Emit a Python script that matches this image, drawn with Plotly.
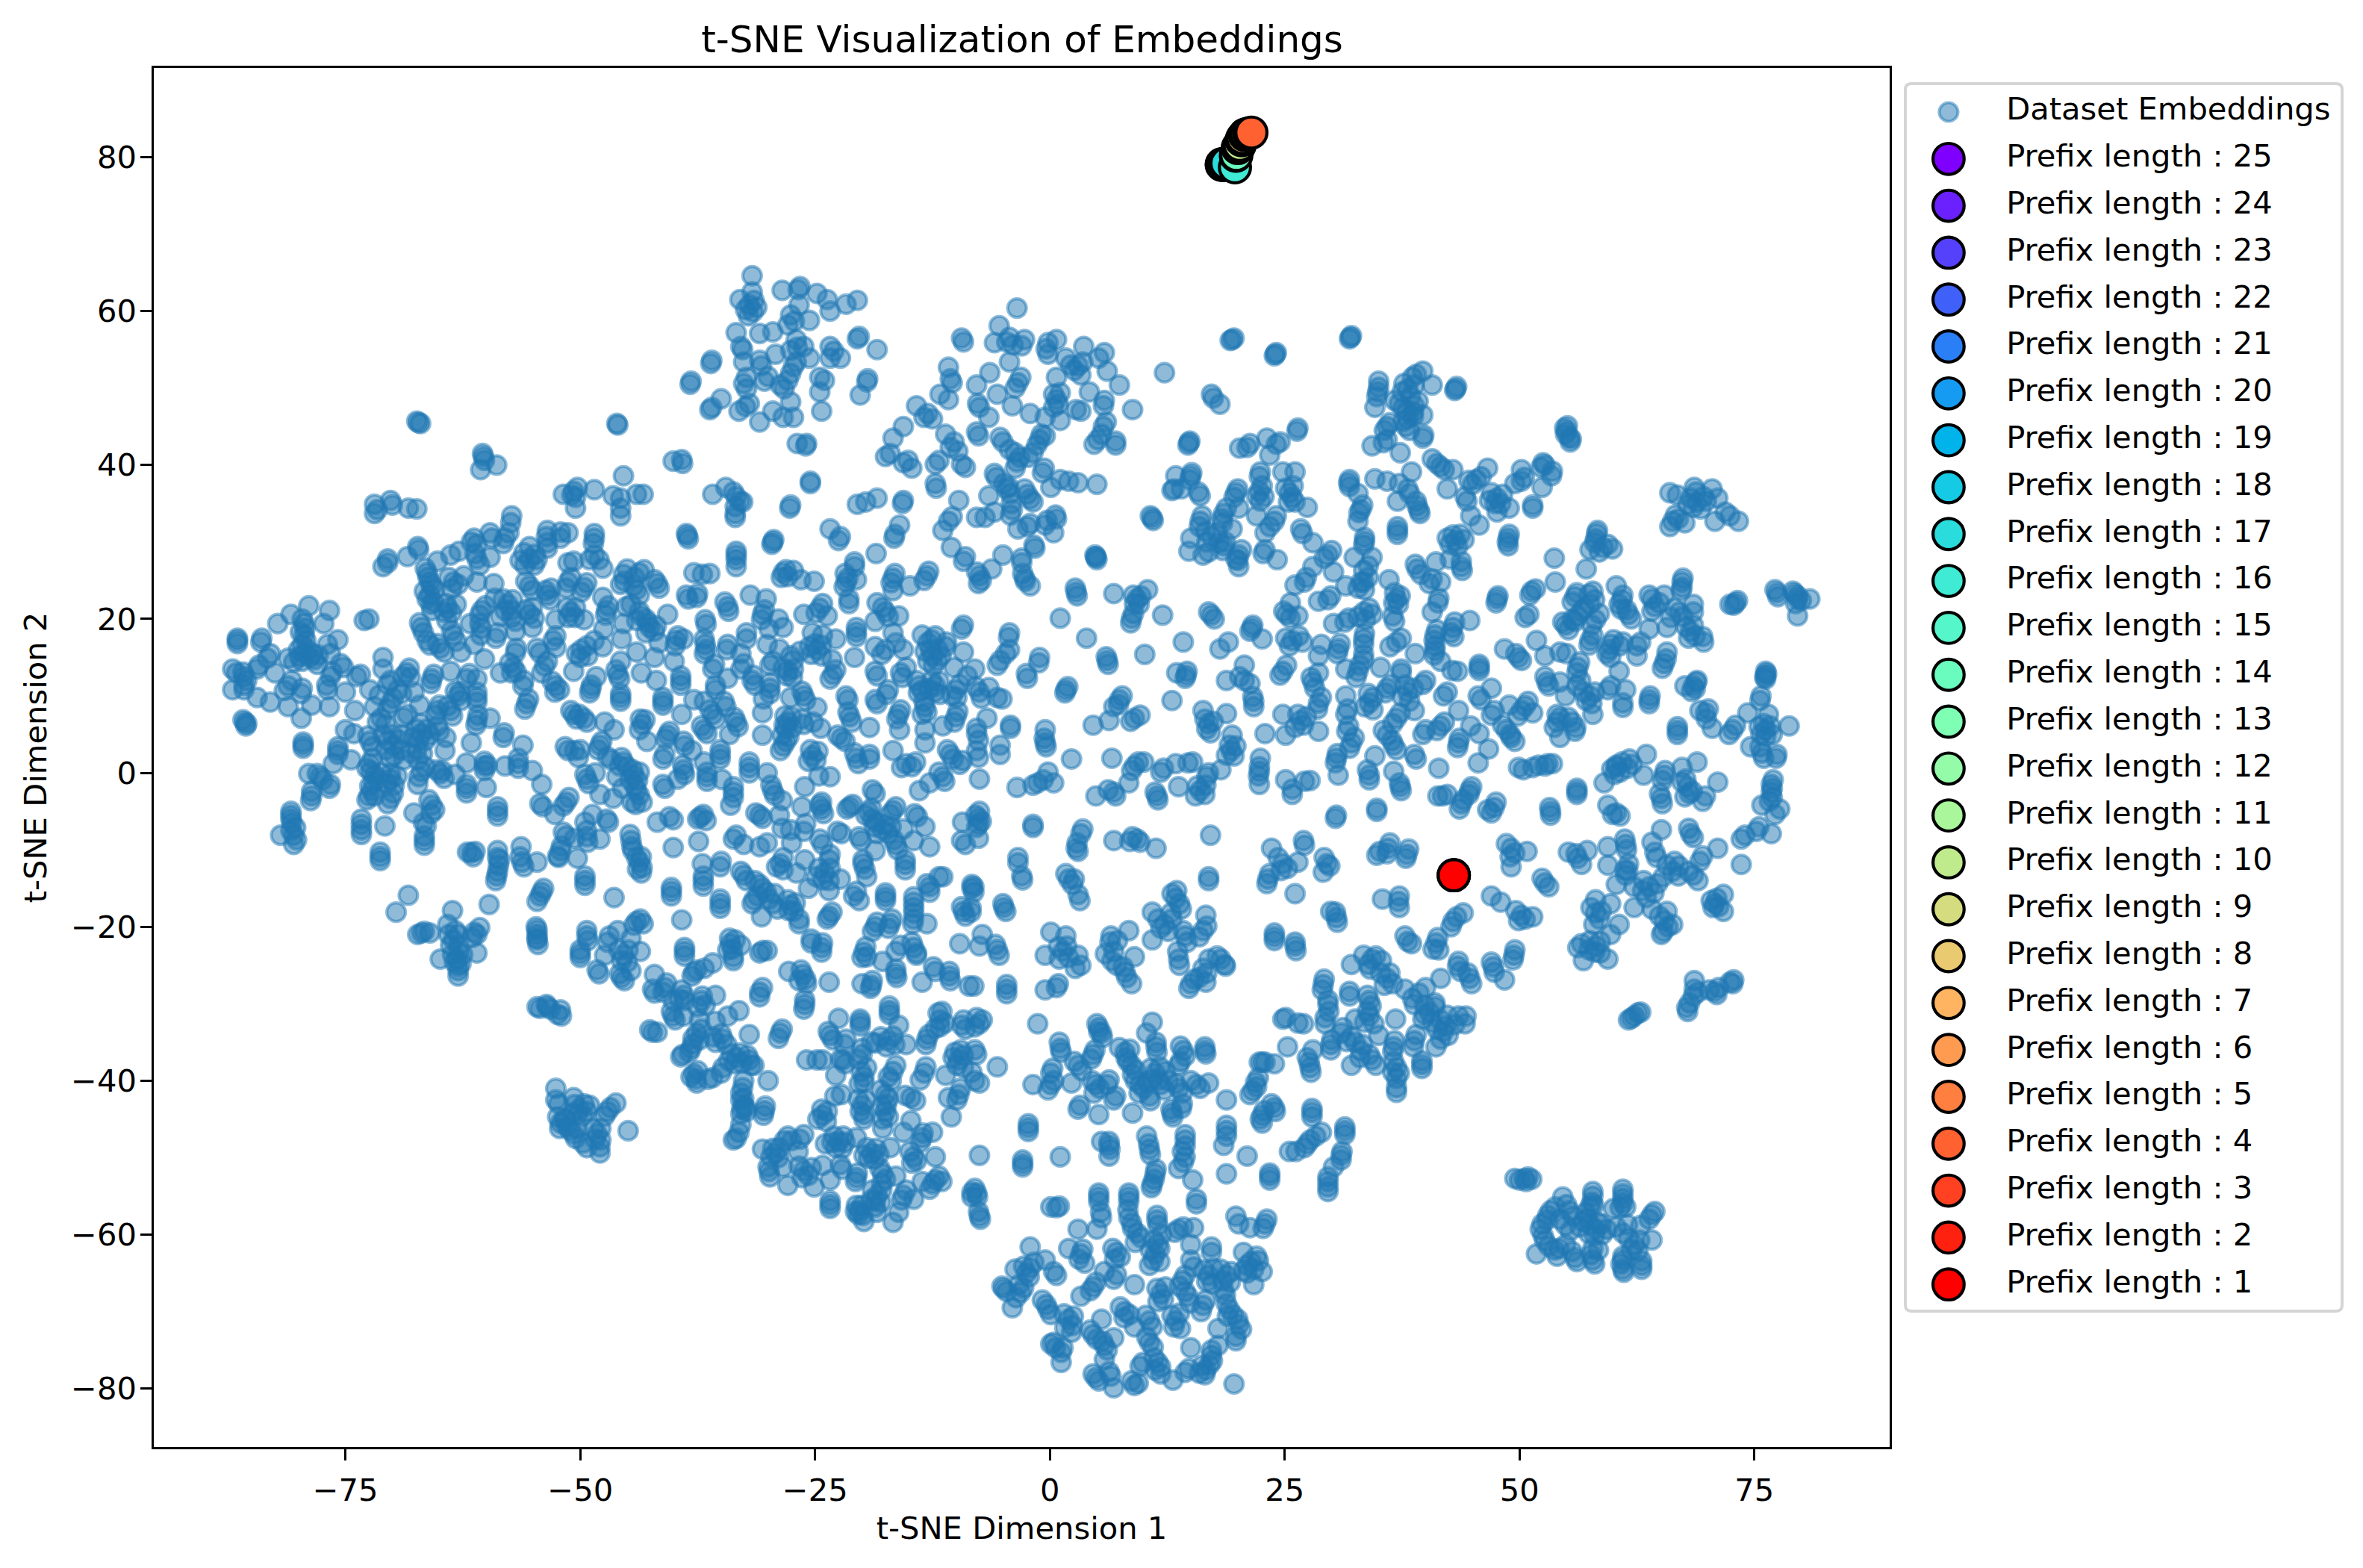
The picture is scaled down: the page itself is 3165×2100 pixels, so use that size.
import numpy as np
import plotly.graph_objects as go

# t-SNE points, grouped by region (x, y)
top_cluster = [(-31.7,64.6),(-31.7,62.5),(-28.5,62.7),(-26.6,63.2),(-26.8,62.8),(-33,61.5),(-32,60.8),(-31.5,61.4),(-32.4,60.2),(-31.6,59.9),(-31.2,60.5),(-32.1,59.4),
(-24.8,62.3),(-23.7,61.5),(-21.7,60.9),(-20.5,61.4),(-23.4,60),(-27.6,59.5),(-27.2,58.7),(-26.7,60.8),(-25.6,58.8),(-27.9,58.2),(-33.4,57.2),(-30.9,57.1),(-29.5,57.3),
(-32.9,55.4),(-32.7,55),(-27,56.3),(-27.6,54.9),(-26.9,55.3),(-26.2,55.4),(-23.4,55.4),(-23,54.8),(-20.3,56.7),(-20.5,56.4),(-18.4,55),(-32.6,53.4),(-30.9,53.6),(-30.7,52.9),(-29.2,54.4),(-27,53.4),(-27.3,52.8),(-25.6,53.9),(-23.4,53.9),(-22.3,53.9),
(-36,53.6),(-36.1,53.2),(-38.3,50.5),(-38.2,50.9),(-32.3,51.4),(-32.6,50.6),(-30.4,50.9),(-30,51.5),(-28.7,50.4),(-28.3,49.9),(-27.6,51.9),(-27.9,51),(-24.5,51.4),(-24,51),(-19.5,50.8),(-19.4,51.2),(-20.2,49.1),(-24.5,49.5),(-32.3,49.9),(-35,48.6),(-36.2,47.2),(-36,47.5),(-32,48),(-32.4,47.6),(-33.1,47),(-30.9,45.6),(-29.5,47),(-27.6,48.2),(-28.4,46.2),(-27.3,46.2),(-24.3,47),(-26.9,42.8),(-25.9,42.8),(-26,42.5),
(-9.4,56.5),(-9.2,56),(-10.8,52.7),(-10.6,51.2),(-10.4,50.7),(-11.7,49.2),(-14.2,47.7),(-13.4,46.2),(-13,46.7),(-12.5,46),(-15.6,45),(-16.7,43.5),(-10.8,48.5),(-11.1,44),(-10.6,42.3),(-10.2,43),(-9.8,41.8),(-17.5,41.1),(-17,41.5),(-15.6,40.3),(-15.1,40.6),(-14.7,39.6),(-12.2,40.1),(-11.8,40.6),(-9.4,40.1),(-9,39.7),(-12.2,37.6),(-12.1,37),(-9.7,35.4),(-10.8,32.7),(-10.4,33.3),(-11.4,31.5),(-10.5,29.3),(-9.2,27.5),(-9,28.1)]

mid_top = [(-3.5,60.4),(-5.4,58.1),(-4.3,56.6),(-4.6,56),(-3.9,55.6),(-2.7,56.3),(-3,55.5),(-5.9,55.9),(-0.2,55.9),(-0.4,55.1),(0.7,56.3),(3.6,55.4),(5.8,54.6),(5.2,53.9),(3,52.9),(3.5,53.4),(2.6,52.3),(2.2,53),(3.3,51.7),(1.7,53.9),(-0.2,54.4),(-4.3,53.4),(-6.4,52),(-7.8,50.4),(-3.4,50.7),(-3.1,51.4),(-3.7,50),(0.7,51.4),(6.1,52.2),(7.4,50.4),(4.2,49.5),(0.7,48.5),(0.4,49.2),(1.1,49.4),(0.9,47.9),(0.4,47.5),(5.8,48.4),(5.7,47.7),(8.8,47.2),(3.3,47),(2.8,47.2),(1.1,45.8),(-2.1,46.7),(-0.5,46.2),(-4,47.7),(-5.6,49.2),(-7.5,47.5),(-7.7,48),(-6.5,46.2),(-7.8,44.3),(-7.6,43.8),(6,45.6),(5.7,45),(5.1,43.3),(5.5,44),(7,42.6),(7,43.1),(4.7,42.7),(-1.1,43.3),(-0.9,44),(-1.4,42.6),(-0.5,43.8),(-5,43),(-5.3,43.6),(-3.7,41.6),(-4.3,42),(-3.2,41),(-3.5,40.4),(-1.8,41.6),(-2.3,41),
(-5.9,38.9),(-5.7,38.4),(-0.8,39),(-0.6,39.6),(-3.7,39.6),(1.1,38.1),(2,37.9),(3,37.7),(5,37.5),(0.1,37.1),(-4.6,36.9),(-4.9,37.6),(-4.2,36.3),(-4.4,37.2),(-2.4,36.2),(-2.7,36.9),(-2.1,35.6),(-6.5,36),(-4,34.2),(-4.2,33.5),(-4.1,35),(-5.9,33.9),(-1.8,35.2),(-7.8,33.2),(-6.9,33.2),(0.7,33),(0.6,33.5),(-0.5,32.2),(-0.3,32.8),(-2.4,32),(-2.1,32.4),(0.4,31.2),(-3.4,31.7),(10.9,33.1),(10.7,33.4),(11,32.8),
(-1.6,29.2),(-1.7,29.6),(-3,27.9),(-3,27.3),(-5,28.3),(-6.2,26.5),(-7.5,25.6),(-7.8,26.1),(-7.3,25),(-7.6,24.6),(-2.7,25.3),(-2.9,25.9),(-2.6,24.9),(-2.1,24.3),(4.9,28),(4.8,28.3),(5,27.7),
(12.2,52),(17.2,49.2),(17.4,48.7),(18.1,47.9),(14.8,42.9),(14.9,43.1),(14.7,42.6),(20.2,42.2),(21.3,42.8),(21,42.3),(23.1,43.5),(24.5,43),(24.1,42.7),(23.4,41.3),(26.4,44.8),(26.3,44.4),(19.4,56.3),(19.6,56.5),(19.2,56.2),(24,54.4),(24.1,54.6),(23.9,54.2),(32,56.6),(32.1,56.8),(31.9,56.4),
(13.4,38.6),(15,38.6),(15.1,39),(14.9,38.1),(13.2,36.9),(13,36.7),(14,36.9),(15.8,36.5),(16,36),(19.8,36.4),(19.6,35.8),(20,36.9),(22.4,39.1),(22.3,38.5),(22.3,36.6),(22.6,37.3),(22,36),(22.8,35.9),(22.4,35.3),(24.8,39.1),(26.1,39.1),(25.5,36.4),(25.1,37),(25.9,37.3),(25.8,35.8),(25.4,35.2),(27.4,34.5),(26.1,35.2),(20.1,34.4),(18.5,33.7),(18.3,33),(18.8,34.4),(18.4,32.5),(16,32.7),(16.2,33.4),(15.9,32),(16.6,31.4),(23.9,32.7),(23.4,32),(24.1,33.4),(22,33.4),(19.4,31.7),(22.9,31.2),(17.2,30.7),(17.8,31.2),(16.7,30),(18,29.9),(18.5,29.5),(18.7,30),(18.4,28.9),(16.3,28.3),(16.9,28.7),(14.8,28.8),(20.1,28.3),(20.4,29),(20,27.6),(19.8,27.8),(20.1,26.8),(22.9,29),(22.7,28.5),(24.2,27.7),(26.7,31.7),(26.9,31.1),(28,29.9),(29.6,28.3),(30,28.9),(29.2,27.9),(28,26.8),(30.2,26.1)]

upper_right = [(35,50.9),(35,50.1),(34.9,49.5),(34.8,48.9),(34.6,47.5),(39.7,52.2),(39,51.8),(38.6,51.4),(40.7,50.4),(43.2,49.9),(43.3,50.2),(43.1,49.7),(38.1,49.9),(37.5,49.5),(38.8,50.4),(37.7,50.6),(38.4,48.9),(37.2,48),(36.7,48.4),(37.6,47.4),(38.8,47.7),(39.2,48.3),(38,47),(38.7,46.9),(38.1,46),(37.6,45.7),(38.7,46.3),(37.9,45),(38.3,44.5),(39.7,46.5),(35.9,45),(35.6,44.5),(36.2,45.5),(39.7,43.5),(39.8,43.9),(35.9,43.3),(35.5,42.9),(34.3,42.5),(37.3,41.6),
(54.8,44.8),(55,44.4),(54.9,44),(55.1,45.1),(55.4,43),(55.3,43.6),(55.5,43.4),
(40.7,40.8),(41.6,39.8),(41.2,40.2),(42,39.4),(42.9,39.4),(45.4,38.1),(45,37.5),(45.9,38.5),(44.6,38),(46.6,39.6),(50.2,39.4),(52.5,40.3),(52.7,40),(52.3,39.7),(53.5,39.2),(53.4,38.6),(50.5,38.4),(50.2,37.9),(52.4,37.1),(49.5,37.6),(42.3,36.9),(44.2,35.9),(44.4,35.3),(47.6,35.7),(47,36.4),(48.2,36.2),(47.4,35),(48,35),(46.8,35.4),(48.9,34.4),(51.4,34.4),(51.4,34.8),(47.6,33.9),
(34.6,38.2),(35.9,37.9),(37.2,37.6),(38.5,39.1),(38.1,36.9),(38.3,36.3),(37,35.3),(39.1,34.7),(39.3,34.1),(39,35.3),(39.4,33.7),(31.8,37.7),(31.9,37.2),(31.9,38.1),(32.8,36.3),(33.1,34.2),(33.3,34.8),(32.9,33.8),(32.8,32.7),(37,31.5),(37,31),(37,32),
(44.8,33.4),(45.7,32.2),(43.2,30.2),(42.9,30.9),(43.7,31),(42.6,29.7),(43.4,29.4),(44.1,30.3),(42.3,30.5),(42.6,27.8),(43.8,26.8),(43.8,27.5),(43.9,26.3),(41.1,27.4),(48.8,30.5),(48.9,31),(48.7,30),(48.8,29.5),
(53.7,27.9),(58.2,31.1),(58.1,30.4),(58.3,31.5),(58.9,29.3),(58.5,28.7),(59.4,29.7),(58,29.9),(57.5,29),(59.9,29.1),(57.1,26.5),(53.8,24.8),
(66,36.4),(66.8,36.1),(68.6,37.1),(68.8,36.5),(70.5,36.9),(68.9,35.2),(68.2,35.7),(69.6,35.9),(68.5,34.5),(69.3,34.3),(67.9,34.9),(69.9,35.3),(71.1,35.7),(72.4,33.4),(71.9,33.9),(73.3,32.7),(66.3,32.7),(66.6,33.5),(66,32),(66.9,33),(67.6,32.5),(70.8,32.7),
(15,30.5),(33.4,24.8),(31.5,24.3),(27.1,24.8),(27.3,25.4),(26.1,24.4),(33.1,24.8),(33.9,25.4),(32.8,24),(33.5,23.8),(36.1,25.1),(39.1,26.5),(39.5,25.8),(38.9,27.1),(41.6,24.8),(40.4,24.6),(40.7,25.2),(33.4,26.3),(33.9,26.9),(32.4,28),(34.3,28),(33.5,30.1),(33.4,29.6),(33.5,30.6),
(29.6,22.5),(29.9,23),(28.6,22.3),(36.9,22.6),(36.7,23.4),(37.1,21.9),(36.6,22.1),(37.3,23),(41.3,22.1),(41.4,22.7),(40.7,20.9),(44.7,19.8),(42.9,18.9),(43.1,19.6),(42.7,18.2),(33.4,20.9),(34,21.4),(32.8,20.3),(33.6,19.9),(34.3,20.6),(31.8,20.1),(31.4,19.6),(30.2,19.4),(36.5,20.4),(36.7,19.7),(25.2,20.6),(25.6,20.1),(24.9,21),(25.6,22.1),(26.4,20.4),(21.5,18.8),(21.3,18.4),(21.6,19.2),(17.2,20.5),(17.5,20),(16.9,20.9),(12,20.5),
(2.8,23.5),(2.7,24),(2.9,23),(6.8,23.3),(9.3,22.6),(9,22),(9.7,23),(8.9,23.1),(9.5,21.9),(10.4,23.8),(8.7,20.1),(8.6,19.5),(8.9,20.7),(1.1,20.1),(3.9,17.5),(6.1,14.6),(6,15.1),(6.2,14.1),(10.1,15.4),(14.2,17),(19,17),(18.1,16.1),(13.5,13),(14.5,12.7),(14.6,13.2),(14.4,12.3),(13,9.4),(4.9,28.1),
(-4.3,18.2),(-4.4,17.6),(-4.3,16),(-4.7,15.5),(-5.6,14),(-5.3,14.6),(-1.1,15),(-1.2,14.3),(-2.4,12.3),(-2.5,12.9),(1.7,10.8),(1.9,11.2),(1.6,10.4),(7.4,9.5),(7.3,8.9),(7.7,10),(6.8,8.6),(9,7.1),(8.6,6.7),(9.6,7.5),(4.6,6.2),(6.3,6.8),(-0.5,5.6),(-0.5,3.9),(-0.6,4.5),(-0.4,3.4),(2.3,1.8),(6.6,1.9),(9,0.9),(8.7,0.3),(9.4,1.4),(10,1.4),(-4.2,6.2),(-4.2,5.8),(-5.3,2.4),(11.8,0.1),(12.1,0.6),
(16.9,6.4),(16.5,7),(17.4,6.7),(16.7,5.7),(17.1,5.2),(16.3,8.1),(18.8,7.7),(22.9,5.1),(19.4,4.9),(19.3,2.9),(18.8,2.3),(19.8,3.5),(19.1,3.6),(19.6,2.2),(22.4,1.9),(22.3,0.2),(22.3,0.8),(22.2,-0.4),(22.3,-1.5),(13.4,1.2),(14.7,1.3),(15.2,1.4),(16.9,0),(16.7,-0.5),(18.2,0.4),(16,-2.3),(15.7,-1.7),(16.5,-2.8),(15.5,-3),(16.6,-1.6),(13.7,-1.8),(11.2,-2.5),(11.4,-3),(11.5,-3.5),(8.4,-1.3),(6.8,-2.5),(7,-3),(6.2,-2.2),(4.9,-3),(0.4,-1.3),(-1.3,-1.3),(-1.8,-1.6),(-0.7,-0.9),(-3.5,-1.9),(-0.2,0.1),(-7.5,-0.8)]

center_right = [(24.8,7.6),(26.7,6.8),(26.1,5.9),(27.3,7.3),(26.4,7.6),(27,6.2),(28.6,9.1),(28.5,8.3),(28.9,9.8),(25.1,4.9),(28.6,5.4),(28,11.8),(28.2,11),(27.8,12.4),(28.6,13),(31.5,13.5),(32.8,13.2),(32.6,12.4),(33,14),(35.2,13.7),(37.4,13.5),(37.4,13),(31.5,10),(31.5,7.6),(31.7,8.3),(31.8,6.1),(31.6,5.4),(34,9.1),(33.5,8.6),(34.4,9.8),(33.9,10.3),(34.4,8.2),(35.9,11),(35.7,10.4),(36.3,11.5),(38.1,10.5),(37.5,9.9),(38.7,11),(38.3,9.3),(37.8,11.4),(40,12),(39.7,11.5),(42.3,10.5),(41.9,10),(43.5,8.1),(45.9,9.5),(45.6,10),(47,11),(47.3,8.1),(47,7.5),(48.9,8.8),(50.2,8.1),(49.8,7.4),(50.6,8.7),(51.4,7.8),(50.9,9.3),(48.6,5.6),(48.2,6.2),(49,5),(49.5,4.1),(49.1,4.6),(46.7,3.1),(45.7,5.1),(44.8,6.1),(43.5,3.9),(43.6,4.5),(43.4,3.3),
(36.9,7.1),(36.5,6.4),(37.3,7.8),(38.8,8.1),(40,5.6),(39.7,5),(41.6,6.1),(41.2,5.5),(42,6.6),(35.9,4.9),(35.5,5.5),(36.6,3.6),(36.4,4.2),(36.9,3),(38.8,2.4),(39,1.8),(32.1,3.9),(32.4,4.6),(31.9,3.2),(34.6,2.2),(30.5,1.9),(30.4,1.3),(30.6,2.5),(30.7,-0.3),(34,-0.3),(33.8,0.4),(34,-0.9),(36.6,0.2),(37.3,-1.8),(37.2,-1.3),(37.4,-2.3),(41.4,0.6),(45.6,1.3),(25.1,-0.9),(27.1,-1.1),(27.7,-1),(25.8,-2.8),(25.8,-2.1),
(33.4,17.4),(33.5,18.1),(33.4,16.7),(33.4,15.4),(33.4,14.7),(25.8,17.2),(25.1,17.5),(26.5,17.8),(26.9,17),(25.5,16.5),(22.6,17.4),(28.9,16.7),(30.7,16.1),(30.6,15.5),(30.9,16.8),(28.6,15.2),(24.8,13.2),(25.2,14),(24.5,12.7),(20.7,14),(18.8,12),(20.7,12),(20.2,12.5),(21.3,11.6),(21.7,9.3),(21.7,8.6),(21.6,9.9),(36.9,17),(36.2,16.4),(37.4,17.5),(41,17.9),(41.2,18.6),(40.9,17.2),(41,15.9),(40.9,15.3),(41,16.5),(41.6,14.5),(43,17.7),(38.9,15.5),(43.4,13.2),(42.8,13.3),(45.7,13.7),(45.7,14.1),(45.7,13.3),
(48.4,16.1),(49.9,15),(49.6,15.5),(50.2,14.6),(51.8,17.2),(52.7,15.2),(54.3,15.7),(55,15.5),(52.9,11.8),(52.7,12.5),(53.1,11.3),(54.3,11.8),(56.2,13.7),(56.4,14.4),(56.1,13),(56.5,12),(56.1,11.3),(57.5,10),(57.1,9.4),(58,10.5),(57.7,9),(56.8,10.5),(54.9,10),(59.7,11.3),(59.4,10.8),(61,9.1),(61,8.5),(61.3,10.8),(60.6,13.2),(63.8,9.5),(63.8,9),(63.9,10),(57.8,7.6),(55.6,6.6),(55.2,7.2),(56,5.9),(54,6.6),(53.7,5.9),(54.3,7.2),(54,7.6),(55.9,5.4),(54.3,4.6),
(47.6,22.6),(47.5,22.1),(47.7,23),(51.3,23.6),(51.1,23.1),(51.7,23.9),(51,20.6),(50.6,20.2),(55.9,22.9),(55.6,22.2),(56.1,23.4),(57.8,23.6),(57.4,23.2),(60.3,24.3),(61,23.1),(60.6,21.9),(60.8,21.3),(60.9,22.5),(57.5,21.9),(56.9,21.4),(58,22.5),(54.9,19.2),(55.2,18.6),(54.6,19.6),(55.6,19.9),(56.2,20.4),(56.6,21),(55.9,19.7),(58.1,19.9),(58.5,20.7),(57.7,19.2),(61.6,20.6),(61.9,20),(61.4,21.2),(63.8,23.1),(64.1,22.6),(65.4,23.1),(64.4,21.6),(64.9,22.1),(64.1,21),(67,20.9),(66.5,21.4),(67.4,20.3),(66.1,20.2),(67.3,24.8),(67.3,24.1),(67.4,25.3),(67.2,23.7),(68.5,20.9),(65.7,18.9),(63.8,18.7),(68.2,18.4),(67.7,19),(68.7,17.8),(68,17.5),(68.5,19.2),(69.5,17.7),(69.6,17),(62.9,17),(62.5,16.5),(61,17),(60.7,16.5),(59.7,16.7),(59.5,16),(60,17.3),(57.5,17.2),(57.4,16.6),(57.8,17.9),(59.7,15),(59.3,15.5),(62.5,15.2),(65.7,15.7),(65.4,14.2),(65.2,13.6),(65.6,14.8),(68.5,21.9),
(73,22.1),(73.2,22.4),(72.8,21.8),(72.4,21.9),(77.4,23.4),(77.2,23.8),(77.5,22.9),(79.3,23.3),(79.1,23.6),(79.6,23),(79.6,22.6),(79.4,22),(80,22.4),(80.9,22.6),(79.6,20.4),
(76.2,12.7),(76.2,13.2),(76.2,12.2),(76.3,12.9),(76.1,12.4),(75.7,10),(75.6,9.4),(68.5,11.3),(68.8,11.8),(68.3,10.6),(68.7,10.9),(67.6,11.3),(68.9,12),(69.2,8.1),(69.8,7.8),(69.9,7),(70.1,8.3),(70.5,5.8),(72.7,5.6),(72.3,5),(73,6.2),(74.3,7.8),(76.5,7.6),(76.2,5.6),(75.7,5),(76.7,6.1),(75.5,6),(76.9,5),(76.2,4.7),(76,6.4),(78.7,6.1),(74.6,3.4),(75.8,2.6),(75.6,3.4),(76,1.9),(77.4,2.4),(77.3,1.9),(66.8,5.5),(66.8,6),(66.8,5),(60.9,1.4),(61.7,1.8),(60.3,0.8),(60.7,0.1),(61.5,0.6),(62,1.1),(63.5,2.4),(60.3,1),(59.8,0.5),(60.1,-0.2),(59,-1.3),(63.2,-0.3),(65.4,-0.3),(65.2,-1),(65.5,0.3),(67.3,0.7),(68.9,1.4),(67.9,-1.8),(67.3,-1.2),(68.4,-2.4),(67.7,-0.8),(68.1,-2.7),(67.6,-3.1),(71.1,-1.2),(69.8,-3),(69.5,-3.7),(65.1,-3.3),(64.9,-2.7),(65.2,-4),(56.1,-2.4),(56.1,-2),(56.1,-2.8),(59.4,-4.2),(60.3,-5.2),(60.7,-5.6),(59.9,-5.4),(76.8,-2.5),(76.8,-1.5),(76.9,-3.2),(76.6,-3.7),(77,-0.9),(76.9,-2),(75.8,-4.2),(77.7,-4.7),(77.2,-5.4),(49.9,0.7),(50.4,0.4),(51.4,0.7),(52,1),(53,1.2),(53.5,1.2),(52.7,0.9),(44.7,-2.3),(44.9,-1.8),(44.6,-2.8),(41.3,-3),(41.8,-3),(42.3,-2.8),(43.8,-4),(43.6,-4.7),(44,-3.5),(47.3,-4.5),(47.5,-3.8),(47,-5.2),(46.6,-4.8),(53.3,-5),(53.2,-4.5),(53.3,-5.5),(34.8,-5),(34.8,-4.6),(30.5,-5.5),(30.4,-5.9),(-8,13.5),(-7.5,10.5),(-7.9,11.2),(-7.3,9.7),(-5.6,9.8),(-5.1,9.6),(-6.7,7.1),(-7.8,5.1),(-7.6,4.2),(-7.8,5.8),(-7.8,2.9),(-7.6,2),(-5.3,3.6)]

lower_mid = [(-1.8,-7.1),(-1.8,-6.7),(3.3,-7.9),(3.5,-7.3),(2.8,-9.8),(2.9,-9.1),(3,-10.2),(6.8,-8.8),(9.3,-8.6),(8.8,-8.3),(9.6,-9),(8.5,-8.9),(11.3,-9.8),(17.1,-8.1),(-3.4,-11.7),(-3.4,-11),(-2.9,-13.9),(-3,-13.4),(2,-13.8),(1.7,-13.1),(2.4,-14.5),(2.6,-13.8),(3,-15.8),(3.2,-16.6),(16.9,-14),(16.9,-13.5),(-8.1,-14.8),(-8.1,-15.5),(23.6,-9.8),(27,-8.8),(27.1,-9.4),(24.8,-11.8),(24.3,-11),(25.3,-12.4),(24.6,-12.7),(26.4,-11.6),(23.2,-13.8),(23.1,-14.4),(23.4,-13.1),(29.5,-11.8),(29.2,-11),(29.8,-12.1),(29.1,-12.9),(26.1,-15.7),(34.8,-10.7),(35.1,-10.2),(36,-9.8),(36.2,-9.1),(35.9,-10.5),(38,-10.6),(38.2,-9.9),(37.9,-11.1),(35.4,-16.4),(37.1,-16.7),(37.2,-16),(37.2,-17.5),(29.9,-18),(30.5,-18.8),(30.6,-19.4),(30.4,-18.1),(49.1,-9.8),(48.6,-9.2),(49.5,-10.4),(49,-10.9),(50.8,-10.2),(49.1,-12.2),(52.7,-14.3),(52.4,-13.7),(53.1,-14.8),(47,-16),(48,-16.8),(50.2,-18.5),(49.6,-17.9),(50.6,-19),(49.9,-19.2),(51.4,-18.7),(44,-18.2),(42.9,-19.3),(43.3,-18.7),(42.7,-20),(37.8,-21.2),(38.1,-21.9),(38.5,-22.2),(41.1,-22.1),(41.3,-21.4),(40.8,-22.9),(41.4,-23),(-4.9,-17.5),(-5,-17),(-4.7,-18),(-8.4,-18.1),(-8.4,-17.5),(-7.2,-21),(-5.6,-23),(-5.8,-22.3),(-5.4,-23.7),(-7.5,-22.5),(23.9,-21.3),(23.9,-20.8),(23.9,-21.8),(26.1,-22.5),(26.1,-22),(26.2,-23.1),
(13.4,-16.3),(13.8,-17),(13,-15.7),(14,-17.7),(13.5,-15.3),(10.9,-18.1),(16.6,-18.5),(12.2,-19.7),(11.5,-19),(13,-19),(12.6,-20.6),(11.8,-20.2),(12.9,-18.2),(14.4,-21.2),(14.2,-20.5),(14.6,-22),(16.3,-20.5),(16.7,-19.9),(15.9,-21.3),(13.7,-24.2),(13.6,-23.2),(13.8,-25),(10.9,-21.7),(0.1,-20.7),(1.7,-21.2),(1.4,-23.2),(0.9,-22.6),(1.8,-22.5),(2,-24),(1,-24.2),(-0.5,-23.7),(3,-23.7),(3.3,-25),(2.7,-25.4),(6.8,-23.2),(6.4,-22),(7.2,-21.8),(6.6,-24.4),(7.1,-25),(5.9,-23.5),(8.4,-20.5),(9,-23.9),(8,-25.9),(8.2,-26.6),(7.8,-25.2),(8.7,-27.4),(6.5,-21.2),(18.2,-24.2),(18.6,-24.9),(17.8,-23.8),(16.9,-24.2),(16.3,-25.4),(16.7,-26),(15.9,-26.6),(15,-27.4),(15.4,-26.8),(14.8,-28),(16.6,-27.2),(18.7,-25.1),(-4.6,-28.1),(-4.6,-27.5),(-4.6,-28.7),(0.7,-27.9),(0.9,-27.4),(-0.5,-28.2),(-8.1,-27.7),
(32.1,-24.9),(33.4,-23.7),(34.3,-24.2),(33.9,-24.9),(34.7,-23.8),(34.1,-25.5),(35.3,-24.4),(35.9,-26.7),(35.2,-26),(36.5,-27.4),(35.6,-27.6),(36.2,-26),(37.8,-28.1),(29.1,-27.5),(29.2,-26.8),(29,-28.2),(31.9,-28.4),(31.9,-29),(29.6,-30.1),(29.6,-29.5),(29.7,-31),(29.3,-32.6),(29.3,-31.8),(34,-29.6),(33.8,-28.9),(34.2,-30.3),(34,-31.6),(33.5,-32.4),(34.5,-32.6),(33.8,-31),(32.5,-32),(36.8,-32),(24.8,-32),(25.1,-31.8),(26.4,-32.5),(27,-32.6),(31.2,-33.1),(31,-33.8),(32.1,-34.3),(32.5,-35),(31.6,-34.9),(29.9,-35.3),(30,-34.7),(29.9,-36),(33.1,-36.1),(33.3,-35.3),(33,-37),(35,-34.1),(36.6,-35.6),(36.7,-34.8),(36.5,-36.2),(38.8,-34.8),(38.7,-35.6),(39,-34),(40.4,-31.1),(39.9,-30.2),(41,-30.4),(39.7,-32),(40.7,-32.4),(41,-29.9),(39.9,-31.4),(41.6,-32.1),(42.1,-32.9),(41.2,-33.3),(42.3,-31.5),(43.5,-31.6),(44.3,-31.6),(43.1,-32.7),(44.2,-32.6),(41.9,-33.6),(41.6,-34.6),(42.4,-34.1),(38.8,-30.1),(38.6,-29.3),(39.3,-28.6),(41.1,-35.6),(34.3,-37.3),(34.7,-38),(34,-36.6),(32.1,-38),(36.9,-38.3),(36.6,-37.5),(37.2,-39),(36.9,-39.7),(36.5,-38.9),(39.6,-37.9),(39.6,-38.4),(39.6,-37.4),(36.9,-40.9),(36.9,-41.5),(27.6,-37.6),(27.4,-37),(27.7,-38.3),(27.8,-38.9),(25.3,-35.6),(28,-36),
(43.4,-25.1),(43.5,-24.5),(43.7,-25.8),(44.7,-26.7),(44.9,-27.4),(44.5,-26),(47.2,-25.2),(47,-24.6),(47.3,-25.9),(49.4,-23.7),(49.5,-23),(49.3,-24.3),(48.4,-26.9),(41.6,-26.7),(40,-27.9),
(56.2,-11.1),(56,-10.5),(56.6,-11.9),(55.2,-10.3),(57.2,-10.1),(59.4,-12),(60.3,-14.5),(61.3,-9.3),(61.2,-8.6),(61.4,-10),(59.4,-9.6),(64.4,-10.3),(64.1,-9),(64.6,-11),(61.6,-11.8),(61.2,-12.6),(66.3,-12.8),(65.7,-12),(66.9,-13.4),(65.3,-13.5),(66.5,-11.5),(67,-12.1),(63.8,-14.8),(63.2,-14),(64.3,-15.6),(63.5,-16.2),(64.7,-14.4),(63.1,-15.3),(62.2,-14.8),(68.2,-7.9),(68,-7.2),(68.5,-8.4),(65.1,-7.4),(69.5,-10.8),(69.2,-11.5),(68.5,-13.3),(68,-12.8),(69,-14),(73.6,-11.9),(71.1,-9.8),(73.6,-8.6),(74,-8.1),(75.2,-7.6),(75.5,-7),(76.8,-7.9),(70.8,-17),(70.4,-16.6),(71.2,-17.4),(71,-16.3),(70.6,-17.5),(71.7,-15.8),(71.7,-18),(58.1,-18.2),(57.6,-17.5),(58.5,-19),(57.9,-19.7),(58.7,-18),(58.1,-16.5),(59.7,-17),(60.6,-19.7),(65.4,-19.2),(64.9,-18.6),(65.8,-20),(65.3,-20.6),(65.7,-18),(65.1,-21),(62.2,-17.5),(64.1,-17.7),(66.3,-19.7),(59.7,-21),(58.1,-22.5),(57.5,-21.8),(58.6,-21.9),(58,-23.3),(58.6,-23.4),(57.4,-23),(56.2,-22.7),(56.6,-22.2),(56.8,-24.4),(59.4,-24.2),(61.3,-13.3),(61.5,-12.7),
(68.6,-28.1),(68.6,-27),(68.5,-29),(69,-28.5),(70.8,-28.4),(70.2,-28.2),(71.2,-27.9),(71,-28.8),(72.4,-27.2),(72.7,-27.4),(72.8,-26.9),(67.9,-31),(68.1,-29.9),(67.8,-30.5),(61.9,-31.9),(62.2,-31.6),(62.6,-31.2),(61.6,-32.1),(62.9,-31.1),
(50.5,-52.7),(50.9,-52.5),(50,-52.9),(51.3,-52.8),(50.7,-53.1),(49.5,-52.7),
(57.8,-54.4),(57.8,-55),(57.7,-55.8),(57.9,-56.2),(61,-54.1),(61,-54.7),(61,-55.3),(61,-55.9),(60.7,-56.5),(61.3,-56.4),(54.6,-55.1),(53.3,-56.9),(53,-57.5),(53.8,-56.4),(55.3,-56.9),(55,-56.1),(55.7,-57.6),(57.5,-56.4),(57,-57.2),(60,-56.6),(64.1,-57.4),(64.4,-57),(63.8,-58),(52.4,-58.6),(52.2,-59.3),(52.9,-58.1),(54.9,-58.8),(54.3,-58),(55.4,-59.5),(56.8,-58.3),(56.4,-59),(57.2,-57.9),(58.1,-59.3),(57.5,-58.7),(58.7,-58.6),(58,-60.1),(58.8,-60),(57.4,-59.9),(59.3,-59.3),(58.3,-58.4),(61,-59.8),(60.3,-59),(61.5,-58.7),(62.9,-58.8),(64.1,-60.7),(62.2,-61.3),(61.6,-60.5),(62.8,-60.7),(61.9,-62),(62.6,-62.1),(52.7,-60.8),(52.5,-60.1),(53.1,-61.5),(51.8,-62.5),(54,-62.8),(53.7,-62),(54.2,-61.8),(55.9,-63),(55.6,-62.2),(56.1,-63.5),(57.8,-63.3),(57.6,-62.6),(58,-63.8),(57.8,-61.8),(58.4,-62),(54.9,-61.3),(61,-64.5),(60.8,-63.8),(61.1,-64.9),(63,-64),(63,-63.4),(63,-64.5),(61,-62.8),(61,-63.3),
(5.2,-55.1),(5.2,-54.6),(5.2,-55.7),(8.4,-55.1),(8.4,-54.6),(8.4,-55.7),(0.1,-56.4),(0.7,-56.5),(1,-56.3),(15.6,-55.4),(15.6,-56),(5.5,-57.8),(5.4,-57.1),(8.4,-57.8),(8.3,-56.8),(8.7,-58.5),(11.4,-58.1),(11.4,-57.5),(11.5,-58.8),(19.8,-57.6),(20.1,-58.6),(21.3,-59.1),(22.9,-58.6),(22.7,-59.2),(23.1,-58),(13.7,-59.3),(14.2,-59),(13.3,-59.7),(15.3,-59.1),(3,-59.3),(9.3,-59.8),(8.8,-59.2),(9.7,-60.4),(9.1,-61),(5,-59.3),(-2.1,-61.6),(11.5,-61.3),(11.1,-60.7),(11.9,-60),(15,-61.3),(17.2,-61.6),(17.2,-62.3),(2,-61.8),(3.3,-62.5),(3.1,-63.2),(3.5,-61.9),(3.7,-63.7),(7.1,-62.3),(6.7,-61.8),(7.5,-62.9),(6.9,-63.2),(11.2,-62.5),(10.7,-62),(11.7,-61.8),(11,-63.3),(11.7,-63.5),(10.6,-64),(15,-63.3),(15.3,-64.2),(22,-62.8),(22.2,-63.4),(20.6,-62.3),(-2.1,-64.3),(-2.5,-65),(-1.7,-63.6),(-2.2,-65.5),(-2.8,-64.1),(-3.7,-64.5),(0.7,-65.3),(0.4,-64.8),(-0.5,-63.3),(21,-64),(20.6,-64.7),(21.4,-63.5),(21,-65),(21.7,-64.5),(22.6,-64.8),(16.9,-65.3),(16.4,-64.6),(17.4,-64.4),(16.7,-66.1),(17.3,-66.4),(18.8,-65.3),(18.2,-64.5),(19.3,-64.8),(18.4,-66),(19.2,-66.2),(5.8,-64.8),(6.8,-65.8),(7.1,-65.2),(9,-66.5),(14.1,-66),(14.4,-65.3),(13.8,-66.7),(4.6,-66.8),(4.9,-66.2),(4.3,-67.3),(-4.9,-67),(-4.6,-67.4),(-5.1,-66.7),(-3.1,-67.5),(-3.6,-68.2),(-2.8,-66.9),(-3.3,-66.5),(11.8,-67.7),(11.4,-67),(12.1,-68.4),(11.5,-68.7),(12.3,-66.8),(3.3,-68),(21.7,-66.5),(18.5,-67.2),(18.7,-67.9),(14.7,-68),(14.4,-67.4),(14.9,-68.9),(-0.8,-68.5),(-4,-69.5),(-0.2,-69.7),(-0.4,-69.1),(0.1,-70.4),(16.3,-69.2),(16.6,-68.5),(16.1,-70),(8,-70),(7.5,-69.4),(8.5,-70.4),(7.9,-70.8),(19.1,-69.7),(18.8,-69),(19.5,-70.4),(18.9,-70.6),(2,-71),(1.5,-70.3),(2.4,-71.8),(1.6,-72.1),(2.5,-70.6),(10.6,-71.2),(10.2,-70.5),(10.9,-72),(13.4,-71.2),(13,-70.5),(13.8,-70.2),(13.2,-72),(13.9,-72.2),(20.1,-71.7),(20,-71),(20.4,-72.3),(17.9,-72.2),(5.5,-71),(4.6,-73),(4.3,-72.4),(5,-73.6),(9,-72),(2.3,-72.7),(10.6,-74),(10.3,-73.3),(11,-74.6),(5.8,-74.4),(5.6,-73.8),(6.1,-75),(0.1,-74.2),(0.4,-74),(0.6,-74.7),(1.4,-74.7),(1.2,-75.3),(6.8,-73.4),(19.8,-73.2),(19.8,-73.8),(15,-74.7),(17.9,-74.4),(17.2,-75.7),(17.2,-75),(17.3,-76.4),(1.2,-76.6),(5.8,-76.2),(9.6,-77.1),(9.9,-76.6),(11.5,-76.6),(11.1,-76),(11.8,-77.2),(11.2,-77.6),(16.6,-77.6),(16.2,-77),(17,-76.9),(16.5,-78.2),(15.9,-78),(14.4,-77.9),(14.8,-77.4),(4.9,-78.6),(4.6,-78.1),(5.2,-79),(6.5,-78.4),(6.3,-77.8),(6.8,-79.9),(9,-79.6),(8.7,-79),(9.4,-79.3),(13.1,-78.9),(11.8,-78.1),(19.6,-79.4),
(5.2,-33.1),(5.2,-33.6),(5,-32.6),(1.1,-35.8),(1,-35),(1.2,-36.3),(4.6,-36.6),(4.8,-36),(4.4,-37.2),(5.5,-33.8),(5.6,-34.4),(10.9,-32.4),(10.3,-33.8),(8,-36.3),(7.4,-35.7),(8.5,-35.9),(8.1,-37),(11.3,-35.6),(11.3,-35),(11.4,-36.3),(14.2,-36.1),(13.9,-35.5),(14.4,-36.8),(16.5,-36.1),(16.5,-35.6),(16.6,-36.5),(3,-38),(2.6,-37.5),(3.4,-38.7),(8.7,-38),(8.3,-37.5),(9.1,-38.6),(8.8,-39.2),(11.2,-39),(10.7,-38.4),(11.7,-38.2),(10.9,-39.8),(11.6,-39.9),(12.3,-38.8),(13.7,-38),(13.9,-37.5),(0.1,-39),(0.3,-38.4),(-1.8,-40.5),(0.1,-40.5),(0.4,-40),(-0.2,-41.2),(2.3,-40.3),(4.9,-40.5),(4.5,-40),(5.3,-41),(4.7,-41.6),(6.1,-40.5),(6.3,-39.9),(9.6,-40.5),(9.1,-40),(10,-41),(9.5,-41.6),(10.4,-40.2),(11.8,-40.5),(12.2,-41.2),(12.6,-40),(13.7,-41),(13.4,-40.4),(14.1,-41.6),(15.6,-40.5),(15,-40),(16,-41),(16.9,-40.3),(18.8,-42.5),(6.8,-42.5),(7,-42),(10.6,-42),(10.7,-42.6),(14.1,-43),(14,-43.6),(3,-43.7),(3.2,-43.2),(5.2,-44.4),(8.8,-44.2),(13,-44.2),(13.1,-44.7),(12.9,-43.7),(22.6,-37.6),(22.3,-37.6),(22.9,-37.6),(23.9,-37.8),(22,-40.8),(21.9,-40.2),(22.2,-39.6),(21.6,-41.3),(21.3,-41.8),(23.9,-43.5),(23.6,-43),(24,-44),(22.6,-44.5),(22.4,-45),(22.8,-43.9),(27.9,-44.1),(27.9,-43.6),(27.9,-44.7),(22.6,-45.5),(31.4,-46.5),(31.4,-46),(31.4,-47),(28.9,-46.7),(28.3,-47.2),(27.7,-47.7),(27.4,-48.2),(27.1,-48.7),(25.5,-49.2),(26.2,-49.2),(31,-49.7),(31.1,-49.2),(31,-50.3),(30.2,-51.2),(29.6,-53.1),(29.6,-52.5),(29.6,-53.8),(29.6,-54.4),(23.4,-52.4),(23.4,-52),(23.4,-52.9),(18.8,-52.1),(21,-49.8),(18.5,-48.4),(18.8,-46.5),(18.8,-45.8),(18.8,-47.2),(14.4,-47.7),(14.4,-47),(14.4,-48.5),(14.4,-49.9),(14.1,-49.2),(14.2,-50.6),(13.7,-51.4),(15.2,-52.9),(11.2,-52.1),(11.3,-51.5),(10.9,-53.4),(11.1,-52.8),(10.8,-53.9),(10.3,-47.2),(10.6,-48.9),(10.5,-48.2),(10.7,-49.6),(6.3,-48.4),(6.3,-47.9),(6.4,-48.9),(5.5,-47.9),(6.3,-49.8),(-2.3,-46.1),(-2.3,-45.6),(-2.3,-46.6),(-2.9,-50.8),(-2.9,-50.3),(-2.9,-51.2),(1.1,-49.9),(-7.5,-49.7),(-7.8,-54.6),(-8,-54),(-7.7,-55.1),(-7.5,-57.6),(-7.6,-57),(-7.4,-58),(-1.3,-32.6),(-7.5,-32.6),(-8,-33),(-7.2,-32.1),(-7.8,-31.8),(-7.8,-36.6),(-8,-36),(-5.6,-38.2),(-7.5,-40.3),(-8,-40)]

left_low = [(-81.9,-8.1),(-80.5,-8.1),(-80.3,-7.1),(-80.7,-6.5),(-80.2,-8.7),(-80.8,-7.5),(-80.5,-9.3),(-73.3,-7.4),(-73.3,-6.7),(-73.3,-8),(-70.8,-6.9),(-66.6,-8.8),(-66.6,-8.2),(-66.6,-9.4),(-71.3,-10.9),(-71.3,-10.3),(-71.3,-11.4),(-61.6,-10.4),(-62,-10.3),(-61.2,-10.2),(-61.4,-10.9),(-58.8,-10.1),(-58.8,-12.8),(-58.7,-12),(-58.9,-13.4),(-58.6,-11.3),(-59,-14),(-58.8,-11),(-56.3,-9.6),(-56.2,-11.6),(-56.4,-10.9),(-56,-12.2),(-54.6,-11.6),(-52.1,-10.1),(-52,-9.5),(-52.3,-11),(-52.4,-10.8),(-50.3,-11.1),(-49.3,-8.3),(-49.3,-7.5),(-49.2,-9),(-47.9,-8.6),(-44.6,-8.8),(-44.7,-8),(-44.5,-9.6),(-44.4,-10.1),(-43.7,-11.6),(-44,-11),(-43.4,-12.3),(-43.9,-12.5),(-43.5,-10.9),(-43.5,-13),(-40.1,-9.7),(-37.4,-8.9),(-33.7,-8.6),(-33.4,-8.1),(-32.6,-9.3),(-30.9,-9.6),(-30.1,-9.1),(-37,-11.8),(-35.1,-12.2),(-35,-11.5),(-36.9,-14),(-36.9,-13.4),(-36.9,-14.7),(-40.3,-15.4),(-40.3,-14.9),(-40.3,-16),(-49.5,-14),(-49.5,-13.4),(-49.5,-14.6),(-46.4,-16.2),(-54.1,-15.5),(-54.3,-16),(-53.9,-15),(-54.6,-16.7),(-68.3,-15.9),(-69.6,-18.1),(-63.6,-17.9),(-59.7,-17.1),(-44,-19.3),(-44.3,-19.8),(-43.6,-19),(-43.3,-19.6),(-39.2,-19.1),(-35.1,-17),(-35.1,-16.4),(-35.1,-17.6),(-54.6,-21),(-54.6,-20.4),(-54.6,-21.5),(-54.7,-20),(-54.6,-21.7),(-54.5,-22.3),(-66.9,-20.8),(-66.6,-20.6),(-67.3,-21),(-66,-20.8),(-64.1,-19.7),(-60.7,-20.1),(-61,-21),(-61.3,-20.7),(-61.5,-21.4),(-63.5,-21.7),(-64,-21),(-63,-21),(-63.8,-22.4),(-62.9,-22.4),(-63.3,-20.5),(-63,-23.2),(-63.6,-23.6),(-62.5,-23.6),(-63.1,-24.2),(-62.7,-24.8),(-63.4,-24.6),(-64.9,-24.2),(-61,-23.4),(-63,-25.7),(-63,-26.4),(-63,-25.1),
(-49.3,-21.2),(-49.3,-20.5),(-49.2,-21.8),(-46.9,-21.2),(-47.1,-22),(-46,-20.5),(-44.6,-21.5),(-50,-23.5),(-50,-23),(-50,-24),(-47.4,-23.7),(-45.4,-23.7),(-45.9,-23),(-44.9,-23),(-45.6,-24.4),(-45,-24.6),(-43.6,-23.2),(-48,-26.1),(-48.2,-25.6),(-45.6,-26.6),(-45.8,-26.1),(-45.3,-27),(-44.6,-25.7),(-38.9,-23.2),(-38.9,-22.7),(-38.9,-23.8),(-34,-22.2),(-34.1,-21.5),(-33.8,-22.9),(-34.3,-23),(-33.5,-21.7),(-32.9,-22.4),(-33.7,-23.9),(-33.7,-24.4),(-30.9,-23.4),(-30.6,-23.1),(-30.1,-23.1),
(-37.9,-25.9),(-38.1,-26.4),(-37.6,-25.6),(-36.8,-25.4),(-35.9,-24.7),(-42.1,-26.2),(-42.3,-28.1),(-42.1,-28.6),(-41,-27.9),(-41.2,-28.5),(-40.8,-27.3),(-39,-28.9),(-39.2,-28.2),(-38.9,-29.6),(-39.4,-29.4),(-37.1,-29.6),(-37,-29),(-36.7,-30.2),(-37.5,-30.4),(-35.6,-28.9),(-40.1,-29.6),(-40.1,-31.6),(-40.3,-31),(-39.9,-32.1),(-39,-31.6),(-30.6,-27.9),(-30.9,-28.5),(-30.9,-29.1),(-33.1,-30.9),(-34.3,-31.6),(-35.6,-32.3),(-37.3,-32.1),(-42.6,-33.4),(-42.3,-33.7),(-41.8,-33.7),(-37.6,-33.8),(-38,-34.5),(-37.1,-33.3),(-37.3,-34.7),(-35.9,-34.3),(-35.6,-35),(-34.8,-34.6),(-34.4,-35.3),(-35,-33.9),(-32,-34),(-28.7,-33.8),(-28.9,-34.5),(-28.5,-33.3),(-38.2,-35.8),(-38,-35.2),(-38.4,-36.3),(-39.1,-36.6),(-39.3,-36.9),(-33.4,-37),(-33.9,-36.5),(-33,-36.4),(-33.6,-37.8),(-32.8,-37.7),(-34.2,-37.4),(-32,-37.3),(-32.2,-36.7),(-31.8,-38),(-31.5,-38),(-34.8,-38.3),(-35,-39),(-37.9,-39.1),(-38.2,-39.5),(-37.5,-38.7),(-37.7,-39.8),(-35.9,-39.6),(-36.4,-39.8),(-37.6,-40.3),(-30,-40),(-32.6,-40),(-32.9,-41.6),(-32.7,-40.9),(-32.6,-43.2),(-32.9,-42.5),(-32.3,-44),(-32.9,-44.3),(-32.6,-42.3),(-32.4,-43.5),(-32.8,-43.7),(-30.4,-43.9),(-30.3,-43.3),(-30.5,-44.5),(-32.9,-45.7),(-33.4,-47.5),(-33.1,-46.7),(-33.7,-47.7),
(-27.8,-25.8),(-26.3,-26.2),(-26.5,-25.6),(-26,-26.8),(-26.7,-27),(-25.9,-27.4),(-23.5,-27.2),(-26.1,-30.1),(-26.1,-29.5),(-26.2,-30.7),(-20,-27.4),(-19,-27.6),(-18.9,-27),(-19.1,-28),(-16.4,-26.1),(-16.4,-25.5),(-16.3,-26.6),(-13.6,-27.2),(-12.4,-25.2),(-12.2,-25.8),(-10.7,-26.4),(-10.7,-25.8),(-10.6,-27),(-8.6,-27.7),(-25.4,-22.1),(-25.4,-21.6),(-24.3,-22.7),(-24.2,-22.1),(-24.3,-23.3),(-19.8,-23.3),(-19.6,-22.6),(-20,-24),(-19.5,-23.9),(-17.8,-24.5),(-15.9,-22.4),(-14.5,-22.7),(-14.7,-22),(-14.2,-23.4),(-16.4,-23.2),(-14.2,-23.7),(-9.6,-22.2),(-18.6,-20),(-18.4,-19.4),(-18.9,-20.6),(-17,-19.6),(-17.2,-20.2),(-16.8,-19),(-14.5,-18.2),(-14.5,-17.5),(-14.5,-19),(-14.6,-19.6),(-14.5,-16.8),(-13.1,-19.6),(-9.2,-18),(-9,-18.6),(-9.4,-17.4),(-23.5,-18.6),(-23.2,-18.1),(-23.7,-19),(-17.5,-16.1),(-17.5,-15.6),(-17.5,-16.6),(-14.5,-16.1),(-19.5,-13.5),(-20.9,-16),(-20.6,-15.4),(-20.3,-16.6),(-12.8,-14.8),(-12.8,-15.5),(-13.1,-14.4),(-11.8,-13.5),(-11.4,-13.5),(-8.3,-14.5),(-8.3,-15),(-31.5,-16.5),(-31.1,-16),(-31.7,-17),(-29.5,-17),(-29.9,-16.4),(-29,-17.7),(-27.6,-17.2),(-27.9,-16.5),(-27.3,-18),(-27.1,-16.9),(-27.8,-17.9),(-26.7,-19),(-26.7,-19.6),(-30.7,-18.7),(-25.7,-15),(-30.9,-14.5),(-31.4,-14),(-30.6,-15),(-30.2,-15.5),(-32.9,-12.8),(-32.6,-13.3),(-32.3,-14),(-28.7,-11.8),(-28.4,-11),(-29.1,-12.2),(-28.4,-12.6),(-26.1,-11.3),(-27,-13),(-24,-13),(-24.6,-12.4),(-23.4,-12.4),(-24.2,-13.9),(-23.5,-14),(-24.9,-13.5),(-23.5,-11.3),(-23.4,-10.6),(-22.3,-13.8),(-19.9,-11.8),(-19.9,-11.3),(-19.7,-12.5),(-15.4,-11.9),(-15.4,-11.3),(-15.4,-12.6),(-27.6,-7.4),(-26.2,-7.6),(-24.5,-8.6),(-24.2,-9.3),(-20.3,-8.3),(-20.1,-8.8),(-17.8,-7.4),(-18.4,-7.9),(-17.2,-7.9),(-17.6,-6.7),(-16.9,-7),(-16.4,-9.3),(-16.6,-8.7),(-16.2,-10),(-12.8,-9.6),(-18.6,-10.1),(-9.4,-8.8),(-9,-9.3),
(-17.1,-30.9),(-17.1,-30.3),(-17.1,-31.4),(-22.5,-31.9),(-20.2,-32.4),(-20.2,-32),(-20.2,-32.9),(-11.7,-32.1),(-11.9,-31.2),(-11.5,-31),(-11.7,-33),(-12.2,-33.2),(-11.2,-32.5),(-9.2,-32.1),(-9.4,-32.8),(-9,-33.3),(-13.1,-34.6),(-13.2,-35.3),(-12.9,-34),(-16.1,-32.8),(-23.4,-34.1),(-23.1,-34.7),(-23.6,-33.6),(-21.7,-34.6),(-21.9,-35.3),(-17.3,-34.8),(-18,-34.3),(-16.7,-34.2),(-17.4,-35.6),(-16.5,-35.3),(-15.3,-35.3),(-18.6,-35.1),(-19,-35),(-25.9,-37.3),(-24.2,-37.3),(-24.8,-37.3),(-22,-37.3),(-22.3,-37.2),(-21.8,-37.8),(-20,-36.6),(-20,-35.8),(-20.4,-37.2),(-19.8,-39.5),(-20.1,-38.8),(-19.5,-38.3),(-19.8,-40.2),(-20.3,-40.4),(-22.8,-39.3),(-16.7,-38.8),(-17.2,-39.5),(-16.4,-38),(-16.9,-40),(-13.4,-39),(-13.2,-38.2),(-13.8,-39.9),(-9.7,-37.3),(-10.3,-37),(-9.2,-36.7),(-9.9,-38),(-9.2,-38.3),(-10.1,-36.3),(-9.5,-36),(-11.1,-39.3),(-22.2,-41.8),(-22.9,-42),(-20,-43.2),(-20.4,-42.4),(-19.6,-42.5),(-20.2,-44),(-19.8,-44.4),(-17.5,-41.8),(-18,-41.2),(-17.2,-42.3),(-14.8,-42.2),(-15.4,-41.9),(-14.3,-42.6),(-9.7,-41.8),(-9.9,-42.5),(-9.5,-41),(-10.8,-42.2),(-17.5,-44),(-17.9,-43.3),(-17.2,-44.7),(-17.4,-43.1),(-17.8,-45),(-19.8,-45),(-10.5,-44.7),(-14.8,-45.2),(-17.8,-46.2),(-24.2,-44.5),(-24.7,-45),(-23.7,-44),(-24.3,-43.7),(-23.8,-45.3),(-30.6,-48.9),(-29.2,-49.4),(-29.7,-49.9),(-28.8,-48.7),(-29.5,-48.8),(-28.9,-50),(-27.9,-47.2),(-28.3,-47.8),(-27.5,-47.8),(-26.2,-47),(-26.6,-47.6),(-22.5,-47.9),(-23,-47.2),(-22,-47.2),(-22.8,-48.7),(-22.1,-48.8),(-23.2,-48),(-21.8,-48),(-23.9,-48.2),(-20.6,-47.4),(-26.8,-49.2),(-19,-49.4),(-19.5,-48.7),(-18.5,-48.8),(-19.3,-50.1),(-18.7,-50.2),(-19.8,-49.7),(-18.2,-49.6),(-17,-48.7),(-13.6,-47.4),(-13.5,-46.8),(-13.8,-48),(-12.5,-46.7),(-15.6,-46.7),(-14.5,-49.9),(-14.9,-49.2),(-14.2,-50.4),(-14.7,-50.7),(-12.2,-49.9),(-28.4,-51.2),(-29.9,-51.8),(-30,-51.2),(-29.8,-52.5),(-26.2,-51.7),(-26.7,-51.1),(-25.7,-52.3),(-26.4,-52.6),(-25.4,-51.3),(-22.3,-50.9),(-22.1,-51.5),(-23.4,-52.9),(-20.6,-52.6),(-20.5,-52),(-20.7,-53.1),(-17.8,-52.1),(-18.1,-51.4),(-17.5,-52.8),(-17.9,-53.3),(-27.9,-53.6),(-25.1,-53.8),(-12.2,-52.9),(-11.8,-52.4),(-12.5,-53.4),(-11.5,-53.1),(-13.6,-53.1),(-18.4,-54.9),(-18.9,-54.2),(-17.9,-54.2),(-18.6,-55.6),(-18,-55.8),(-19,-55.5),(-15.6,-54.9),(-15.3,-54.2),(-15.8,-55.5),(-12.8,-54.1),(-14.5,-55.4),(-8.3,-55.1),(-8.3,-54.5),(-23.4,-56.1),(-23.4,-55.6),(-23.4,-56.6),(-20.3,-56.9),(-20.6,-56.2),(-20,-56.2),(-20.4,-57.4),(-19.9,-57.5),(-20.7,-57),(-18.4,-57.1),(-18.6,-56.4),(-16.1,-57.1),(-19.8,-58.3),(-16.7,-58.4),
(-52.6,-41),(-52.6,-42.5),(-52.3,-43),(-50.7,-42.2),(-50.1,-43.7),(-50.6,-43.1),(-49.6,-43),(-50.3,-44.4),(-49.7,-44.6),(-50.8,-44.2),(-49.3,-44),(-49,-43.2),(-46.2,-42.9),(-47.1,-44),(-47.4,-44.6),(-46.8,-43.5),(-52.1,-45.5),(-52.4,-44.7),(-51.7,-44.9),(-52.2,-46.2),(-51.4,-46),(-51.6,-45.2),(-50.7,-46.9),(-51.1,-46.4),(-50.3,-46.2),(-50.5,-47.5),(-48.2,-46.9),(-48.6,-46.2),(-47.8,-46.2),(-48.4,-47.6),(-47.8,-47.7),(-44.9,-46.5),(-49.3,-48.7),(-49.7,-48.1),(-47.9,-49.4),(-47.9,-48.6),(-54.3,-30.6),(-54.6,-30.4),(-53.5,-30.4),(-53.6,-30.1),(-53.2,-30.7),(-52.4,-31.4),(-52.1,-30.8),(-52,-31.6)]

upper_left = [(-78.9,21.7),(-76.7,21.1),(-80.8,20.6),(-82.2,19.4),(-79.4,19.4),(-79.6,20),(-79.3,18.8),(-79.8,18.3),(-77.3,19.4),(-73,19.8),(-72.5,20),(-86.5,17.2),(-86.5,16.8),(-86.5,17.5),(-83.9,17.5),(-84,17),(-79.4,17.9),(-79.2,17.2),(-79.6,16.6),(-75.8,17.3),(-76.9,16.7),(-83,15.5),(-83.3,14.9),(-79.4,15.5),(-79.9,15.1),(-79,16),(-78.8,15),(-80,16),(-79.6,14.5),(-78.3,14.7),(-77.9,15.3),(-78,14.1),(-78.5,15.5),(-81.1,14.9),(-80.5,14.4),(-76.6,15.5),(-75.5,14.2),(-75.2,13.7),(-87,13.5),(-86.6,13),(-84.4,13.5),(-84.2,14),(-85.8,12.5),(-85.5,12),(-85.9,13.1),(-82.5,13),(-76.6,12.5),(-76.4,13.1),(-73.8,12.5),(-73.4,12.8),(-87,10.8),(-85.8,10.8),(-85.8,11.4),(-84.4,9.8),(-83,9.2),(-81.1,11.3),(-81.5,10.7),(-80.7,12),(-79.7,10.3),(-79.6,11),(-81.1,8.6),(-78.6,8.8),(-76.7,8.6),(-76.9,10.8),(-77,11.4),(-75,10.5),(-79.7,7.1),(-85.7,6.6),(-85.5,6.4),(-85.9,6.9),(-85.6,6.1),
(-67.2,45.5),(-67.4,45.7),(-67,45.4),(-46.1,45.4),(-46,45.2),(-60.3,41.1),(-60.2,40.6),(-60.4,41.5),(-60.6,39.4),(-58.9,40),(-40.1,40.5),(-39.1,40.2),(-39.2,40.7),(-71.9,34.9),(-70.2,35.4),(-70,34.8),(-71.9,33.7),(-71.6,34.2),(-68.3,34.4),(-67.4,34.3),(-67.2,29),(-67.3,29.4),(-68.4,28.1),(-70.5,27.3),(-70.5,27.8),(-71,26.8),
(-50.7,36.6),(-50.3,37.1),(-50.9,36.1),(-50.5,35.8),(-51.8,36.2),(-50.5,34.4),(-48.5,36.8),(-45.4,38.6),(-46.5,36),(-45.7,35.7),(-44,36.2),(-43.3,36.2),(-45.7,33.4),(-45.7,34.4),(-35.9,36.2),(-34.5,37.1),(-33.4,35.9),(-33.7,36.5),(-33,35.3),(-33.5,34.6),(-33.5,33.2),(-33.5,33.7),(-32.7,35.2),(-25.5,37.6),(-25.5,37.9),(-27.7,34.4),(-27.6,34.8),(-29.5,30),(-29.4,30.3),(-29.6,29.7),(-38.6,30.8),(-38.7,31.1),(-38.5,30.4),(-20.5,34.9),(-19.6,35.2),(-18.4,35.7),(-15.7,35),(-15.6,35.4),(-16,32.2),(-16.6,30.5),(-16.5,31),(-23.4,31.7),(-22.3,30.7),(-22.5,30.2),(-18.5,28.5),(-20.8,27.4),(-20.8,26.8),
(-63.8,28.3),(-62.9,28.8),(-65.2,27.5),(-61.3,30.5),(-61,29.7),(-61.6,30),(-59.6,31.2),(-59.4,30.5),(-57.3,33.4),(-57.4,32.5),(-58,30.5),(-58.2,29.8),(-57.6,31.2),(-53.5,31.5),(-53.6,30.7),(-52.1,31.3),(-52.1,30.5),(-51.3,31.2),(-48.5,30.5),(-48.5,31.1),(-48.6,29.8),(-55.4,27.8),(-56,28.6),(-54.8,28.4),(-55.9,27),(-54.9,27),(-55.4,29.4),(-56.4,27.6),(-54.6,27.7),(-53.5,29.2),(-53.5,29.9),(-61,27.8),(-61.2,28.5),(-60.7,27),(-59.6,28),(-51.3,27.3),(-50.7,27.5),(-48.5,28.3),(-49,27.7),(-48,27.7),(-47.6,26.6),(-62.4,25.6),(-66.3,26),(-66.5,26.6),(-66.2,25.4),(-63.5,24.8),(-64,25.4),(-63,24.5),(-63.7,23.9),(-65.8,24.3),(-65.5,23.8),(-66,24.8),(-61,24.8),(-59.2,24.6),(-55.4,24.3),(-55.1,23.7),(-55.8,24.9),(-51.3,24.8),(-51.5,24),(-51,25.4),(-49.6,24.1),(-49.9,23.5),(-49.3,24.7),(-53.5,23.1),(-53.2,22.5),(-53.7,23.7),(-53.1,24),(-66,23.1),(-66.3,22.6),(-65.6,22.2),(-66.6,23.6),(-65.9,21.9),(-64.1,21.4),(-63.7,20.8),(-64.5,20.9),(-64.3,22),(-57.7,21.9),(-58.2,22.6),(-57.2,22.5),(-58,21.1),(-57.3,21.1),(-60.5,21.1),(-60.1,21.7),(-60.7,20.5),(-55.4,20.6),(-55.8,21.2),(-54.9,20.1),(-55.1,21.5),(-51,20.9),(-51.4,21.5),(-50.6,20.2),(-51.3,20.2),(-50.5,21.5),(-47.6,22.8),(-47.2,21.1),(-47.3,20.5),(-47,21.7),(-65.8,21.1),(-66.9,18.9),(-66.7,18.2),(-67.1,19.5),(-63.5,17.9),(-63.2,17.1),(-63.7,18.5),(-66.3,17.2),(-66,16.6),(-64.9,16.2),(-64.5,15.7),(-65.2,16.8),(-62.7,15.7),(-61.3,16.7),(-60.2,14.8),(-60.7,19.4),(-60.5,18.8),(-58.8,18.2),(-59,17.5),(-55.1,18.9),(-52.6,19.9),(-49.6,19.9),(-52.9,17.2),(-52.6,17.8),(-56.8,16.2),(-56.9,15.6),(-54.6,16.2),(-54.3,15.6),(-49.9,16),(-50.4,15.5),(-49.3,16.5),(-50,15),(-49.2,15.2),(-48.5,17.2),(-47.6,16.4),(-45.1,21.6),(-45.4,25.8),(-45,26.5),(-43.7,26),(-44.2,25.4),(-43.2,26.4),(-41.8,24.6),(-41.6,24),(-42.1,25.1),(-44,23.8),(-43.7,23.1),(-44.3,24.3),(-43.5,20.4),(-44,19.8),(-43,20),(-43.7,21),(-42.6,18.9),(-43,18.2),(-42.1,18.4),(-42.8,19.5),(-41.9,19.1),(-45.4,19.4),(-44.6,21.9),(-40.7,20.6),(-39.8,17.2),(-39.9,16.5),(-39.6,17.8),(-39,17.4),(-44,15.7),(-45.7,14.5),(-42.1,15),(-40,14.5),
(-37.9,26),(-37,25.8),(-36.2,25.9),(-33.4,28.3),(-33.4,28.8),(-33.4,27.7),(-33.4,26.8),(-38.7,23.1),(-38.5,22.6),(-37.6,22.8),(-37.5,23.3),(-34.3,21.6),(-34.2,21),(-34.6,22.2),(-31.9,23.1),(-30.2,22.6),(-30.6,20.6),(-30.7,19.9),(-30.4,21.2),(-26.2,20.6),(-24.5,21.4),(-24.9,20.8),(-24.2,22),(-23.7,20.4),(-28.4,26),(-28.6,25.4),(-28.1,26.4),(-27.9,25.5),(-27.3,26.3),(-26.5,25.1),(-25.1,24.9),(-21.7,24.8),(-21.9,24.2),(-21.5,25.3),(-21.8,25.9),(-20.6,25.1),(-21.4,22.6),(-21.4,22),(-16.7,25.3),(-16.9,24.7),(-16.5,25.9),(-14.9,24.3),(-13.1,25.6),(-13.4,25),(-12.9,26.2),(-18.4,22.1),(-17.5,20.9),(-17.8,21.5),(-17.2,20.3),(-16.1,20.4),(-36.7,19.9),(-36.6,19.3),(-36.7,16.7),(-36.8,17.4),(-36.6,16),(-36.8,15.5),(-34.3,16.7),(-34.4,16),(-32.3,17.4),(-32.3,18.2),(-30.1,16.7),(-28.4,18.9),(-32.9,15.5),(-29.5,14.5),(-24.8,16),(-25.4,15.4),(-24.3,15.2),(-25,16.8),(-24.3,16.6),(-25.6,16.4),(-27.6,15.2),(-27.3,14.6),(-25.3,18.2),(-22.8,17.4),(-20.6,18.3),(-20.6,17.7),(-20.6,18.9),(-20.8,15),(-18.6,16.4),(-17.5,16),(-17.9,15.4),(-15.6,16),(-16.7,18.2),(-13.6,17.9),
(-12.5,15.2),(-13,14.5),(-12,14.6),(-12.7,16),(-11.9,16),(-13.3,15.8),(-11.6,15.2),(-12.4,13.9),(-11.1,16.4),(-11,17),(-9.4,18.7),(-9.2,19.2),(-9.2,15.7),(-13.9,11.3),(-14.2,12),(-13.6,10.7),(-14,10.4),(-12.2,11.3),(-12.6,12),(-11.8,11.9),(-12.3,10.5),(-11.7,10.2),(-12.9,10.9),(-10,10.8),(-10.4,10),(-9.6,11.5),(-9.9,9.8),(-13.3,8.6),(-13.4,9.3),(-13.1,7.9),(-13.6,7.6),(-10,7.3),(-10.2,6.6),(-9.8,8),(-13.3,5.6),(-10.6,2.4),(-10.3,1.8),(-10.9,3),(-13.3,3.9),(-16.1,7.6),(-16.3,7),(-15.9,8.2),(-15.9,13),(-15.7,12.4),(-17.2,10.8),(-17.4,10.2),(-18.6,13.2),(-18.4,12.6),(-18.6,9.5),(-18.4,9),(-21.3,7.3),(-21.1,6.6),(-21.5,7.9),(-19.2,5.9),(-21.7,10),(-21.5,9.5),(-23.1,12.8),(-23.4,12.2),(-22.8,13.4),(-27.9,13.2),(-28.4,13.6),(-27.3,13.5),(-28,12.6),(-27.4,12.4),(-29.8,14),(-29.8,11),(-29.8,11.7),(-29.8,10.3),(-31.7,12),(-31.6,12.7),(-31.4,11.4),(-32.9,13.5),(-32.6,14.2),(-34.3,12.3),(-35.9,13.5),(-35.7,14.1),(-39.3,12),(-39.3,12.6),(-39.3,11.4),(-41.9,12),(-43.5,13),(-46,12.8),(-45.8,12.2),(-46.2,13.4),(-48.3,12.5),(-48.9,10.9),(-49,10.4),(-48.8,11.4),(-45.7,9.8),(-45.7,9.3),(-45.7,10.3),(-41.2,9.3),(-41.2,8.8),(-41.2,9.8),(-37.9,9.5),(-35.6,10.8),(-35.6,11.4),(-36.8,9.3),(-34.5,8.6),(-34.7,9.3),(-35.9,7.6),(-36.2,8.2),(-35.6,7),(-39.2,7.6),(-33.4,6.6),(-33.2,6),(-33.6,7.2),(-36.8,5.6),(-37.1,6.1),(-36.5,5.1),(-43.4,6.3),(-43.7,5.6),(-43.1,6.9),(-43.6,7),(-47.4,6.6),(-46.4,5.6),(-30.6,7.8),(-27.6,9.8),(-26.2,10),(-26.4,10.6),(-26,9.4),(-24.8,8.5),(-27.9,6.6),(-28.2,7.4),(-27.5,7.3),(-28.1,5.8),(-27.4,5.9),(-28.3,6.2),(-26.2,6.3),(-26.4,7),(-30.6,4.9),(-28.1,4.1),(-28.4,3.5),(-27.8,4.7),(-28.5,4.9),(-28.7,2.9),(-25.3,2.2),(-25.7,1.5),(-24.9,1.6),(-25.5,3),(-24.7,2.8),(-23.4,-0.5),(-20.6,1.9),(-20.8,2.6),(-20.4,1.2),(-19.2,2.4),(-19.2,1.8),(-16.7,2.9),(-15.3,1.2),(-15.8,0.7),(-14.7,0.8),(-14.3,1.4),(-11.4,-0.5),(-11.8,0.1),(-11.2,-1.1),(-12.8,-1.3),(-13.9,-2.3),(-32,0.7),(-32,1.4),(-32,0),(-30.1,0),(-29.5,-2.3),(-29.7,-1.6),(-29.3,-2.9),(-26.1,-1.8),(-33.7,-2.5),(-33.7,-1.8),(-33.7,-3.2),(-36.5,-0.5),(-36.5,0.1),(-36.5,-1.1),(-39,0.4),(-39.1,1),(-38.9,-0.2),(-35.1,2.4),(-35.1,1.8),(-35.1,3),(-40.7,4.9),(-40.9,4.4),(-40.5,5.4),(-39,4.1),(-38.9,3.5),(-42.9,4.1),(-38.1,2.9),(-41,2.4),(-41.2,1.8),(-45.4,1.4),(-45.8,0.9),(-45,0.8),(-45.6,2),(-47.9,3.6),(-48.1,3),(-47.7,4.1),(-51.3,2.9),(-51.6,3.4),(-50.6,2.9),(-50,3),(-44.3,-0.3),(-44.7,-0.9),(-43.9,-1),(-44.4,0.4),(-43.7,0.1),(-44,-2.3),(-44.2,-1.7),(-43.7,-2.9),(-47.9,-2.8),(-49.3,-0.8),(-49.5,-0.2),(-49.1,-1.4),(-51.5,-3.8),(-51.2,-3.2),(-51.8,-4.3),(-54.3,-4),(-54,-4.4),(-41.2,-1.5),(-41,-2),(-39.6,-0.8),
(-55.7,9),(-55.9,8.3),(-55.5,9.6),(-50.7,7.6),(-51,8.1),(-50.4,7),(-50.1,7.6),(-49.6,7.1),(-49.3,6.6),(-63,10),(-63.3,10.6),(-62.7,9.4),(-62.8,10.5),(-61,9.8),(-61,10.5),(-61,9.2),(-65.8,12.2),(-65.9,11.6),(-65.6,12.8),(-63.8,13.2),(-62.1,12.2),(-61.8,12.9),(-61,12.2),(-57.1,13.7),(-57.5,14.3),(-56.8,13.1),(-57.3,13),(-58.5,13),(-56,12),(-56.1,11.3),(-53.5,14.5),(-53.8,13.9),(-54.1,13),(-50.7,13.2),(-52.6,11.3),(-53,11.9),(-52.2,10.8),(-52.7,10.5),(-71,15),(-71,13.5),(-68.5,13),(-68.9,12.5),(-68.2,13.6),(-68.1,12.4),(-70.5,11.5),(-70.2,12),(-72.4,10.8),(-67.7,10.5),(-74,8.1),(-71.9,8.6),(-70.2,9),(-70.5,8.3),(-69.9,9.7),(-67.1,8.8),(-65.2,8.1),(-65.4,7.5),(-65,8.8),(-63.8,8.1),(-63.6,7.4),(-64.1,8.7),(-61,6.8),(-61.1,6.2),(-60.9,7.5),(-59.6,7.1),(-58.2,4.6),(-58.1,5.2),(-61.6,3.9),(-56.1,3.6),(-71.6,6.6),(-71.2,7.1),(-75,5.6),(-74.1,5.1),(-79.5,3.6),(-79.5,4),(-79.5,3.2),(-75.8,2.9),(-75.8,3.4),(-75.8,2.4),(-69.9,3.6),(-70.5,4.2),(-69.3,4.3),(-70.7,3),(-69.1,3),(-70,5),(-69.8,2.2),(-71,4.9),(-68.9,5),(-70.2,1.9),(-66.9,5.1),(-67.5,5.7),(-66.3,5.7),(-67.2,4.3),(-66.5,4.2),(-67.8,4.6),(-66,4.9),(-67,6.4),(-72.4,4.1),(-72.6,4.8),(-72.1,3.4),(-65.2,6.1),(-65,5.4),(-67.4,3.1),(-68,2.6),(-66.8,2.5),(-67.3,1.7),(-64.4,2.9),(-76.3,1.2),(-74.4,1.7),(-72.4,1.2),(-72.7,0.6),(-72.1,1.9),(-62.1,1.3),(-60.2,0.9),(-60.2,1.5),(-60.2,0.3),(-59.9,1),(-58,0.9),(-56.6,1.2),(-56.6,0.6),(-56.6,1.9),(-55.1,0.3),(-78.9,-0.1),(-77.7,-0.5),(-77.4,-0.9),(-78,-0.1),(-76.6,-1.5),(-76.7,-2),(-78.6,-3),(-78.6,-2.4),(-78.7,-3.6),(-71.9,-0.3),(-72.3,0.2),(-71.5,-0.9),(-72,-1.2),(-71.2,0),(-70.2,-0.8),(-70.6,-1.4),(-69.8,-1.6),(-70.2,-0.1),(-69.5,-0.4),(-66.9,0.2),(-66.5,0.8),(-67.2,-0.5),(-64.9,-0.1),(-65.3,0.4),(-64.5,-0.7),(-64.7,0.3),(-72.2,-2.3),(-72.5,-3),(-71.9,-3),(-72.4,-1.7),(-72.7,-3.5),(-70.2,-3.3),(-70.5,-4),(-69.9,-2.6),(-67.7,-5.2),(-65.8,-4.2),(-66.1,-3.5),(-65.5,-4.8),(-65.9,-5.3),(-62.1,-2),(-62.1,-1.5),(-62.1,-2.6),(-60,-1.9),(-58.8,-5),(-58.8,-4.4),(-58.8,-5.6),(-54.1,-1.5),(-80.8,-5.5),(-80.8,-5),(-80.8,-6),(-73.3,-6)]

# second pass, from closer crops of the reference; only gaps get filled from these
band_left = [(-79.2,0),(-76.5,-1.7),(-70.7,-2.1),(-72.3,1.4),(-69.9,1.4),(-72.5,-3.8),(-72.2,-4.2),(-70.2,-4.2),(-70.5,-4.8),(-70.7,-0.85),(-71.5,-2.1),(-69.6,-1.8),(-68.8,1.7),(-66.5,-0.2),(-64.9,-1.5),(-63.3,-0.2),(-67.3,-1.5),(-62.1,-2.6),(-59.8,-2.1),(-65.5,-4.6),(-65.2,-5),(-66.3,-3.6),(-67.7,-5.4),(-66.7,-6.5),(-66.4,-6.9),(-66.5,-8.9),(-70.8,-6.7),(-73.2,-7),(-54,-1.8),(-55,-4.3),(-53.6,-4.1),(-53.2,-4.5),(-52.7,-5.4),(-51.5,-2.8),(-50.8,-4.1),(-51.6,-4),(-49.5,-6.4),(-49.3,-6.9),(-47.2,-6),(-47,-6.4),(-48.7,-5.4),(-51.8,-7.7),(-51.5,-8.2),(-49.4,-8.6),(-49.1,-9),(-48,-8.6),(-50.6,-8.5),(-52.1,-10.2),(-50.2,-11),(-50.6,2.7),(-50.2,2),(-49.1,-1),(-48.6,-1.5),(-48.4,0),(-48.2,-3.1),(-46.5,-3.3),(-47.1,2.1),(-46.7,1.7),(-45.5,1.1),(-44.7,-0.2),(-46.1,-0.5),(-43.9,-2.1),(-45.5,-2),(-44.5,-3.8),(-44.1,-4.1),(-43.4,-3.8),(-41.2,-1.8),(-41.8,-6.4),(-40.5,-5.7),(-40.1,-6.1),(-44.5,-8.9),(-44.2,-8.3),(-44.2,-11),(-43.5,-12.8),(-40.2,-9.8),(-40.5,-15.2),
(-39.1,0.4),(-36.8,1.4),(-34.9,2.1),(-34.6,2.7),(-36.5,-0.7),(-36.2,-1.2),(-34.9,-0.85),(-37,-1.8),(-39.4,-1.2),(-33.4,-2.6),(-33,-2.9),(-34,-4.2),(-31.9,0.6),(-31.6,0.9),(-29.9,0),(-29.5,-2.3),(-28.5,-3.6),(-28.8,-5.5),(-28.5,-7.2),(-37.2,-5.7),(-36.9,-5.4),(-37.5,-6),(-36.6,-6.2),(-30.9,-5.5),(-31.3,-5.2),(-30.6,-5.9),(-37.4,-8.9),(-39.9,-9.7),(-33.6,-8.6),(-33.2,-8.9),(-32.4,-9.4),(-31.1,-9.4),(-30.1,-9.3),(-27.5,-9.1),(-26.4,-4.4),(-26,-1.8),(-26.3,0.9),(-24.6,-0.4),(-23.2,-0.85),(-25.4,1.9),(-25.8,1.2),(-25,2.3),(-24.3,-4.7),(-24.1,-5.3),(-24.5,-4.2),(-24.3,-3.8),(-26.2,-7.2),(-26,-6.6),(-22.6,-7.6),(-22.2,-7.9),(-24.7,-8.5),(-24.9,-7.9),(-24.4,-9),(-24.4,-9.9),(-21.6,-4.7),(-21.3,-4.4),(-20.5,-8.5),(-20.7,-7.9),(-21,-4.1),(-19.3,-5.1),(-19,-4.6),(-19.6,-5.5),(-18.5,-6.4),(-18.9,-6),(-18.1,-6),(-18.7,-7),(-18.2,-7.1),(-16.7,-4.9),(-16.4,-4.4),(-17,-5.4),(-16.9,-6.4),(-16.5,-6.9),(-14.1,-5.7),(-14.4,-5.3),(-13.3,-7),(-18.9,-2.2),(-18.6,-2.7),(-15.6,-7.3),(-18.6,-8.6),(-16.6,-9.4),(-16.3,-8.9),(-18.3,-10.2),(-14.5,-8.8),(-12.8,-9.4),(-15.4,-11.8),(-19.9,-11.8),(-19.4,-13.6),(-23.5,-11.2),(-23.8,-10.7),(-24.6,-13.2),(-24.9,-12.7),(-23.8,-13.8),(-22.4,-13.8),(-25.8,-15.1),(-23.5,-15.3),(-26.2,-11.4),(-27.1,-13),(-26.8,-13.4),(-28.8,-11.5),(-29.1,-12.8),(-28.5,-10.6),(-36.9,-11.7),(-35.2,-12.2),(-36.9,-14),(-32.8,-12.8),(-32.5,-13.3),(-30.9,-14.3),(-31.6,-16.4),(-29.6,-16.9),(-27.5,-17),(-26.8,-18.6),(-35.2,-17),(-39.1,-19.1),(-30.8,-18.7),(-29.3,-15.7),(-23.5,-18.6),(-23.2,-18),(-21.1,-15.9),(-20.3,-16.5),(-17.5,-16.1),(-14.5,-18.4),(-14.4,-19.3),(-12.9,-19.6),(-18.6,-20),(-17,-19.6),(-12,-13.5),(-11.7,-13),(-12.9,-14.8),(-8.3,-14.8),(-8.1,-14.2),(-13.7,-2.2),(-12.8,-1.7),(-12.5,-2.1),(-11.2,-0.7),(-10.9,-0.3),(-9.6,1.1),(-9.3,1.6),(-7.5,-0.85),(-10.5,2.4),(-3.5,-2.1),(-2,-1.7),(-1.2,-1.5),(-9.3,-6.4),(-7.6,-5.9),(-7.3,-6.3),(-7.9,-5.5),(-7.5,-5),(-7.6,-6.7),(-7.8,-7.1),(-9.2,-8.9),(-9.5,-8.5),(-8.9,-9.4),(-7.6,-8.5),(-1.9,-7),(-5,-17.4),(-4.8,-17),(-9.5,-17.4),(-8.7,-18)]

band_upper_left = [(-66.2,25.8),(-65.9,24),(-66.7,22.7),(-64.3,24.7),(-64,24.2),(-63.3,24.7),(-63.5,22.4),(-63.2,21.9),(-64.6,20.3),(-64.2,19.8),(-63,20.8),(-66.9,18.7),(-66.3,17.1),(-64.9,16.3),(-63.5,17.7),(-63,15.5),(-61.7,16.1),(-61.4,16.6),(-60.2,14.7),(-61.2,24.7),(-59.3,24.4),(-60.5,21),(-60.2,21.5),(-61.7,19.4),(-60.5,19.4),(-60.6,17.9),(-58.9,17.4),(-59.1,22.7),(-57.5,22.1),(-57,21.6),(-57.9,21.6),(-58.2,20.8),(-58.5,20.3),(-56.9,18.4),(-55.5,20.6),(-55.1,21),(-55.9,20.1),(-57.3,20.2),(-56.9,19.7),(-55.1,18.9),(-53.5,23.1),(-53,20),(-52.6,19.5),(-51,20.6),(-51.4,20),(-50.5,20.2),(-49.6,19.5),(-49.2,19.9),(-51.1,24.5),(-50.7,24),(-49.6,24.4),(-49.2,24.8),(-47.8,26.5),(-47.1,21.1),(-46.7,21.5),(-47.5,18.7),(-48.7,16.9),(-48.3,16.4),(-49.1,16.4),(-50,15.9),(-50.4,16.3),(-47.9,16.1),(-49.1,14.7),(-50.7,13.2),(-48.3,12.2),(-48.9,10.8),(-53,16.8),(-52.6,16.3),(-54.5,16.1),(-54.1,16.6),(-57.2,16.1),(-53.6,14.2),(-53.2,13.8),(-56.9,13.5),(-56.5,14),(-57.3,13.1),(-58.4,12.9),(-58.1,12.4),(-56.1,11.6),(-54.1,12.7),(-52.4,11.4),(-52,11.9),(-53,10.6),(-55.5,9.2),(-55.1,9.7),(-55.3,8),(-55.5,7.5),(-51.2,7.5),(-50.8,7.9),(-49.6,6.9),(-47.2,6.3),(-46.3,5.3),(-43.3,6.3),(-45.6,9.7),
(-45.3,24.9),(-44.9,25.3),(-45.7,24.5),(-44.1,23.9),(-44.4,23.4),(-43.4,26.1),(-41.8,24.2),(-41.4,24.7),(-45.5,19.2),(-45.1,19.6),(-43,19.2),(-42.6,19.7),(-43.3,18.7),(-42.9,17.9),(-45.6,17.4),(-44.1,15.6),(-45.6,14.2),(-41.9,14.7),(-43.4,12.7),(-41.8,11.9),(-45.9,12.7),(-41.3,9.2),(-40.1,20.2),(-41.6,16.9),
(-79.4,18.5),(-79,18),(-78.9,19),(-78.6,15),(-78.2,15.5),(-79,14.5),(-77.3,19),(-75.7,17.3),(-76.8,16.4),(-75.6,14),(-73.7,12.2),(-76.8,12.4),(-76.9,10.5),(-79.4,11.1),(-79,10.6),(-79.3,9.8),(-78,8.5),(-76.7,8.4),(-75.5,10.5),(-79.6,6.9),(-70.8,14.8),(-71.1,13.4),(-68.4,13),(-68,13.4),(-70.6,12.1),(-71.8,10.6),(-71.4,10.1),(-69.4,10.8),(-69,10.3),(-67.6,10.3),(-70,9.2),(-69.6,9.6),(-70.4,8.8),(-71.9,8.5),(-73.9,7.8),(-67.3,8.8),(-68.8,7.2),(-68.4,7.6),(-65.7,12.1),(-65.3,11.7),(-63.9,13.2),(-65.1,8),(-63.3,10),(-61.2,11.8),(-60.8,11.3),(-62,12.4),(-61.2,6.6),(-60.8,6.1),(-59.4,6.7),(-74.9,5.6),(-74,5),(-71.9,6.3),(-66.7,5.9),(-66.2,6.3),(-67.2,6.6),(-69.4,5),(-69,5.5),(-69.8,5.6),(-68.6,4.5),(-70.7,6.3),(-70.3,5.8),(-64.3,4.6),(-61.7,3.7),(-58.2,4.5),(-57.8,4),(-56.1,3.7),(-79.4,3.7),(-75.7,3.5)]

band_upper_mid = [(-37.8,25.8),(-37.4,25.4),(-36.5,25.8),(-36.1,25.4),(-37.8,22.7),(-37.4,23),(-38,22.2),(-36.8,22.5),(-34,21.6),(-33.6,21.2),(-34.4,22),(-33.7,22.1),(-31.8,23),(-30.3,22.4),(-31.1,20.2),(-30.7,20.7),(-30.1,21),(-28.9,20),(-28.4,18.7),(-29.9,18.7),(-36.4,19.5),(-36,19),(-36.6,16.6),(-36.2,17),(-36.9,15.5),(-39.7,17.1),(-39.3,17.5),(-38.9,17.3),(-34.1,16.4),(-33.7,16.9),(-32.4,17.1),(-32,16.7),(-34.1,15.3),(-32.1,15.3),(-30.3,16.4),(-29.9,16),(-28.8,16.1),(-30,14),(-27.9,14.3),(-27.5,14.7),(-28.3,13.9),(-28,13),(-27.6,12.6),(-26.7,12.7),(-26.6,15.8),(-24.8,16),(-24.4,16.5),(-25.2,15.5),(-24.6,15.4),(-25.5,18),(-24.6,17.4),(-24.2,17.9),(-22.8,17.3),(-23.2,14.7),(-22.8,14.2),(-22.7,12.7),(-22.3,13.1),(-23,12.3),(-23.5,11.9),(-20.7,18.2),(-20.7,15.5),(-20.9,14.3),(-24.6,21.3),(-24.2,21.8),(-25.8,20.5),(-23.6,20.3),(-28.7,25.7),(-28.3,26.1),(-29,25.3),(-27.2,26.1),(-26.8,25.6),(-25.6,25),(-24.6,24.9),(-21.9,24.9),(-21.5,25.4),(-22.3,25.3),(-21.7,24.4),(-20.5,25),(-21.4,22.1),(-21,21.6),(-20.7,27.1),(-16.7,23.7),(-14.9,24.4),(-13,25.7),(-18.5,22.1),(-17.4,21),(-17,21.5),(-17.8,20.5),(-16.2,20.3),(-15.8,20.8),(-18.6,19.7),(-16.4,18.1),(-16.4,16.9),(-16,16.4),(-18.7,16.4),(-17.4,16.1),(-17,15.6),(-15.8,15.3),(-18.7,13),(-18.3,13.5),(-15.7,13.2),(-15.3,13.7),(-17.1,10.8),(-18.6,9.3),(-21.5,10),(-21.1,10.5),(-21.4,7.2),(-21,7.7),(-19.3,5.6),(-16.9,7.1),(-16.5,6.6),(-16,5.6),(-9.6,18.7),(-9.2,18.2),(-9.3,19.5),(-13.7,18),(-12.6,17.3),(-12.2,17.8),(-13,16.9),(-11,16.4),(-12.6,15),(-12.2,15.4),(-13,14.6),(-12.3,14.3),(-13.4,14),(-13,13.6),(-8.9,15.5),(-11.6,14),(-11.2,14.4),(-10.2,13.7),(-5.8,13.7),(-5.4,13.2),(-4.4,15.6),(-4,15.2),(-4.3,18),(-3.6,16.1),(-1.2,14.7),(-0.8,14.2),(-2.4,12.2),(-8.4,13),(-8,13.4),(-8.8,12.6),(-12.2,11.1),(-11.8,11.5),(-12.6,10.7),(-11.7,10.6),(-12.5,11.7),(-14.4,10.9),(-14,11.4),(-10,11.1),(-10.4,11.6),(-9.6,10.6),(-9.9,11.7),(-11.3,11.8),(-7.3,10.1),(-6.9,10.5),(-6.5,11.1),(-5,9.7),(-13.4,8.2),(-13,8.7),(-12.6,9.5),(-9.7,7.5),(-9.3,8),(-10.1,7),(-9.2,7),(-10.8,6.9),(-6.7,6.9),(-6.3,7.4),(-4.2,6.1),(-13.4,5.9),(-11.4,6.1),(-7.6,5.1),(-7.2,4.7),(-9.6,6.3),(-13.2,3.8),(-14.2,7.9),(-5.1,3.8),(-0.7,5.5),(-0.7,4),
(-39.3,11.8),(-38.9,12.2),(-39.7,14.3),(-36.2,13),(-34.1,12.1),(-32.8,13.4),(-31.9,11.8),(-31.5,12.2),(-32.3,11.4),(-29.6,10.8),(-29.2,11.3),(-30.5,9.6),(-35.7,10.5),(-37.8,9.5),(-37,9.2),(-34.2,8.5),(-33.8,8.9),(-35.7,7.9),(-35.3,8.4),(-39.1,7.4),(-33.3,6.4),(-30.4,7.4),(-30,7.9),(-27.5,9.5),(-26.2,9.8),(-25.8,10.2),(-24.6,8.4),(-27.7,6.7),(-27.3,6.2),(-25.6,6.1),(-25.2,6.6),(-24.4,5.8),(-37,5.5),(-36.6,5),(-34.1,5),(-30.5,4.6),(-39.1,4.3),(-28,4.3),(-27.6,3.9),(-22.2,4.5),(-21.8,4.1),(-22.6,4.9)]

band_lower_mid = [(-26,-37.3),(-21.7,-37.1),(-22.9,-39.2),(-19.8,-39.5),(-16.6,-39),(-16.2,-38.5),(-13.5,-39.2),(-13.1,-38.7),(-7.1,-37),(-5.5,-38.2),(-8.3,-38.9),(-7.2,-40.5),(-9.8,-41.6),(-11,-42.1),(-10.5,-44.7),(-29.9,-40),(-30.4,-43.9),(-32,-43.6),(-20,-43.2),(-22.1,-41.6),(-17.4,-44.1),(-14.8,-45.3),(-19.7,-44.9),(-17.8,-46),(-15.6,-42),(-14.5,-42.3),(-24.3,-44.2),(-23.1,-45.5),(-22.7,-48.1),(-27.9,-47.3),(-29.4,-49.4),(-30.7,-48.9),(-25.5,-47.3),(-27,-49.2),(-29.9,-51.8),(-28.4,-51),(-27.8,-53.4),(-26,-52.1),(-24.2,-51),(-25.1,-53.7),(-23.3,-53.1),(-22.2,-51),(-20.6,-52.6),(-23.4,-56.2),(-19.2,-49.5),(-20.6,-47.1),(-16.6,-48.7),(-15.6,-46.6),(-13.6,-47.6),(-12.4,-46.8),(-14.3,-50),(-12.1,-49.9),(-17.6,-51.3),(-16.4,-52.4),(-11.6,-53),(-11.3,-53.5),(-13.5,-53.3),(-12.5,-53.9),(-18.2,-54.2),(-15.6,-54.9),(-14.4,-55.4),(-20.2,-56.8),(-18.2,-57.1),(-16.6,-58.4),(-19.8,-58.1),(-15.8,-56.8),(-7.9,-54.7),(-7.4,-57.5),(-7.5,-49.7),(-3,-50.8),(-2.3,-46.1),(1.1,-49.9),(-1.8,-40.5),(0.2,-40.3),(0.2,-38.9),(6.4,-48.4),(5.4,-48.1),(6.3,-49.7),(0.6,-56.3),(0.9,-56.7),(5.2,-55.2),(5.6,-57.8),(3,-59.4),(1.2,-36.4),(4.3,-36.9),(3.2,-38.2),(2.4,-40.3),(4.8,-41.5),(6.1,-40.3),(2.6,-43.7),(5.4,-44.2)]

first_pass = [top_cluster, mid_top, upper_right, center_right, lower_mid, left_low, upper_left]
second_pass = [band_left, band_upper_left, band_upper_mid, band_lower_mid]

prefix_lengths = list(range(25, 0, -1))
prefix_x = [18.3, 18.3, 18.4, 18.4, 18.5, 18.5, 18.6, 18.7, 18.8, 19.7, 19.8, 19.85, 20.0, 20.06, 20.1, 20.2, 20.4, 20.5, 20.75, 20.9, 21.2, 21.45, 43.0, 43.0, 43.0]
prefix_y = [79.0, 79.1, 79.0, 79.1, 79.0, 79.1, 79.1, 79.2, 79.2, 78.7, 80.2, 80.3, 81.2, 81.3, 81.4, 81.6, 82.2, 82.5, 82.9, 83.0, 83.1, 83.2, -13.3, -13.3, -13.3]

x_ticks = [-75, -50, -25, 0, 25, 50, 75]
y_ticks = [-80, -60, -40, -20, 0, 20, 40, 60, 80]

FONT = "DejaVu Sans"
BLUE = "rgba(31,119,180,0.5)"
W, H = 3165, 2100


def rainbow(t):
    r = abs(2 * t - 0.5)
    g = np.sin(np.pi * t)
    b = np.cos(np.pi * t / 2)
    return "rgb(%d,%d,%d)" % (min(r, 1) * 255, g * 255, b * 255)


colors = [rainbow(t) for t in np.linspace(0, 1, len(prefix_lengths))]

# second pass re-read many points of the first one, keep only the ones not seen yet
points = [p for region in first_pass for p in region]
base = np.array(points)
for region in second_pass:
    for p in region:
        if np.hypot(base[:, 0] - p[0], base[:, 1] - p[1]).min() > 0.9:
            points.append(p)
data_x = [p[0] for p in points]
data_y = [p[1] for p in points]

fig = go.Figure()

fig.add_trace(go.Scatter(
    x=data_x, y=data_y, mode="markers", showlegend=False,
    marker=dict(size=25, color=BLUE, line=dict(color=BLUE, width=4.17)),
))

for n, px_, py_, c in zip(prefix_lengths, prefix_x, prefix_y, colors):
    fig.add_trace(go.Scatter(
        x=[px_], y=[py_], mode="markers", showlegend=False, name=f"Prefix length : {n}",
        marker=dict(size=41.67, color=c, line=dict(color="black", width=4.17)),
    ))

# the legend: its own small axes, native legend markers are capped at 16px
legend_labels = ["Dataset Embeddings"] + [f"Prefix length : {n}" for n in prefix_lengths]
legend_rows = list(range(len(legend_labels)))

fig.add_trace(go.Scatter(
    x=[0.099], y=[0], xaxis="x2", yaxis="y2", mode="markers", showlegend=False,
    marker=dict(size=25, color=BLUE, line=dict(color=BLUE, width=4.17)),
))
fig.add_trace(go.Scatter(
    x=[0.099] * len(prefix_lengths), y=legend_rows[1:], xaxis="x2", yaxis="y2",
    mode="markers", showlegend=False,
    marker=dict(size=41.67, color=colors, line=dict(color="black", width=4.17)),
))
fig.add_trace(go.Scatter(
    x=[0.231] * len(legend_labels), y=legend_rows, xaxis="x2", yaxis="y2",
    mode="text", text=legend_labels, textposition="middle right", showlegend=False,
    textfont=dict(family=FONT, size=41.67, color="black"), cliponaxis=False,
))

axis_style = dict(
    showgrid=False, zeroline=False, showline=True, mirror=True,
    linecolor="black", linewidth=3.3, ticks="outside", ticklen=14.6,
    tickwidth=3.3, tickcolor="black",
    tickfont=dict(family=FONT, size=41.67, color="black"),
)

fig.update_layout(
    width=W, height=H, autosize=False,
    paper_bgcolor="white", plot_bgcolor="white",
    margin=dict(l=0, r=0, t=0, b=0),
    title=dict(
        text="t-SNE Visualization of Embeddings", x=1369 / W, y=1 - 52 / H,
        xanchor="center", yanchor="middle",
        font=dict(family=FONT, size=50, color="black"),
    ),
    xaxis=dict(
        domain=[206 / W, 2531 / W], range=[-95.4, 89.4], tickvals=x_ticks, ticklabelstandoff=4,
        title=dict(text="t-SNE Dimension 1", standoff=14, font=dict(family=FONT, size=41.67, color="black")),
        **axis_style,
    ),
    yaxis=dict(
        domain=[1 - 1938 / H, 1 - 91 / H], range=[-87.6, 91.6], tickvals=y_ticks, ticklabelstandoff=-3,
        title=dict(text="t-SNE Dimension 2", standoff=20, font=dict(family=FONT, size=41.67, color="black")),
        **axis_style,
    ),
    xaxis2=dict(domain=[2552 / W, 3137 / W], range=[0, 1], visible=False, anchor="y2"),
    yaxis2=dict(domain=[1 - 1756 / H, 1 - 112 / H], range=[25.57, -0.605], visible=False, anchor="x2"),
    shapes=[dict(
        type="path", xref="paper", yref="paper", layer="below",
        path=("M %f %f L %f %f Q %f %f %f %f L %f %f Q %f %f %f %f L %f %f Q %f %f %f %f L %f %f Q %f %f %f %f Z" % (
            (2560 / W, 1 - 112 / H, 3129 / W, 1 - 112 / H, 3137 / W, 1 - 112 / H, 3137 / W, 1 - 120 / H,
             3137 / W, 1 - 1748 / H, 3137 / W, 1 - 1756 / H, 3129 / W, 1 - 1756 / H,
             2560 / W, 1 - 1756 / H, 2552 / W, 1 - 1756 / H, 2552 / W, 1 - 1748 / H,
             2552 / W, 1 - 120 / H, 2552 / W, 1 - 112 / H, 2560 / W, 1 - 112 / H))),
        line=dict(color="#d5d5d5", width=4), fillcolor="white",
    )],
)

fig.write_html("out.html", config={"displayModeBar": False}, post_script="document.body.style.margin='0';")
